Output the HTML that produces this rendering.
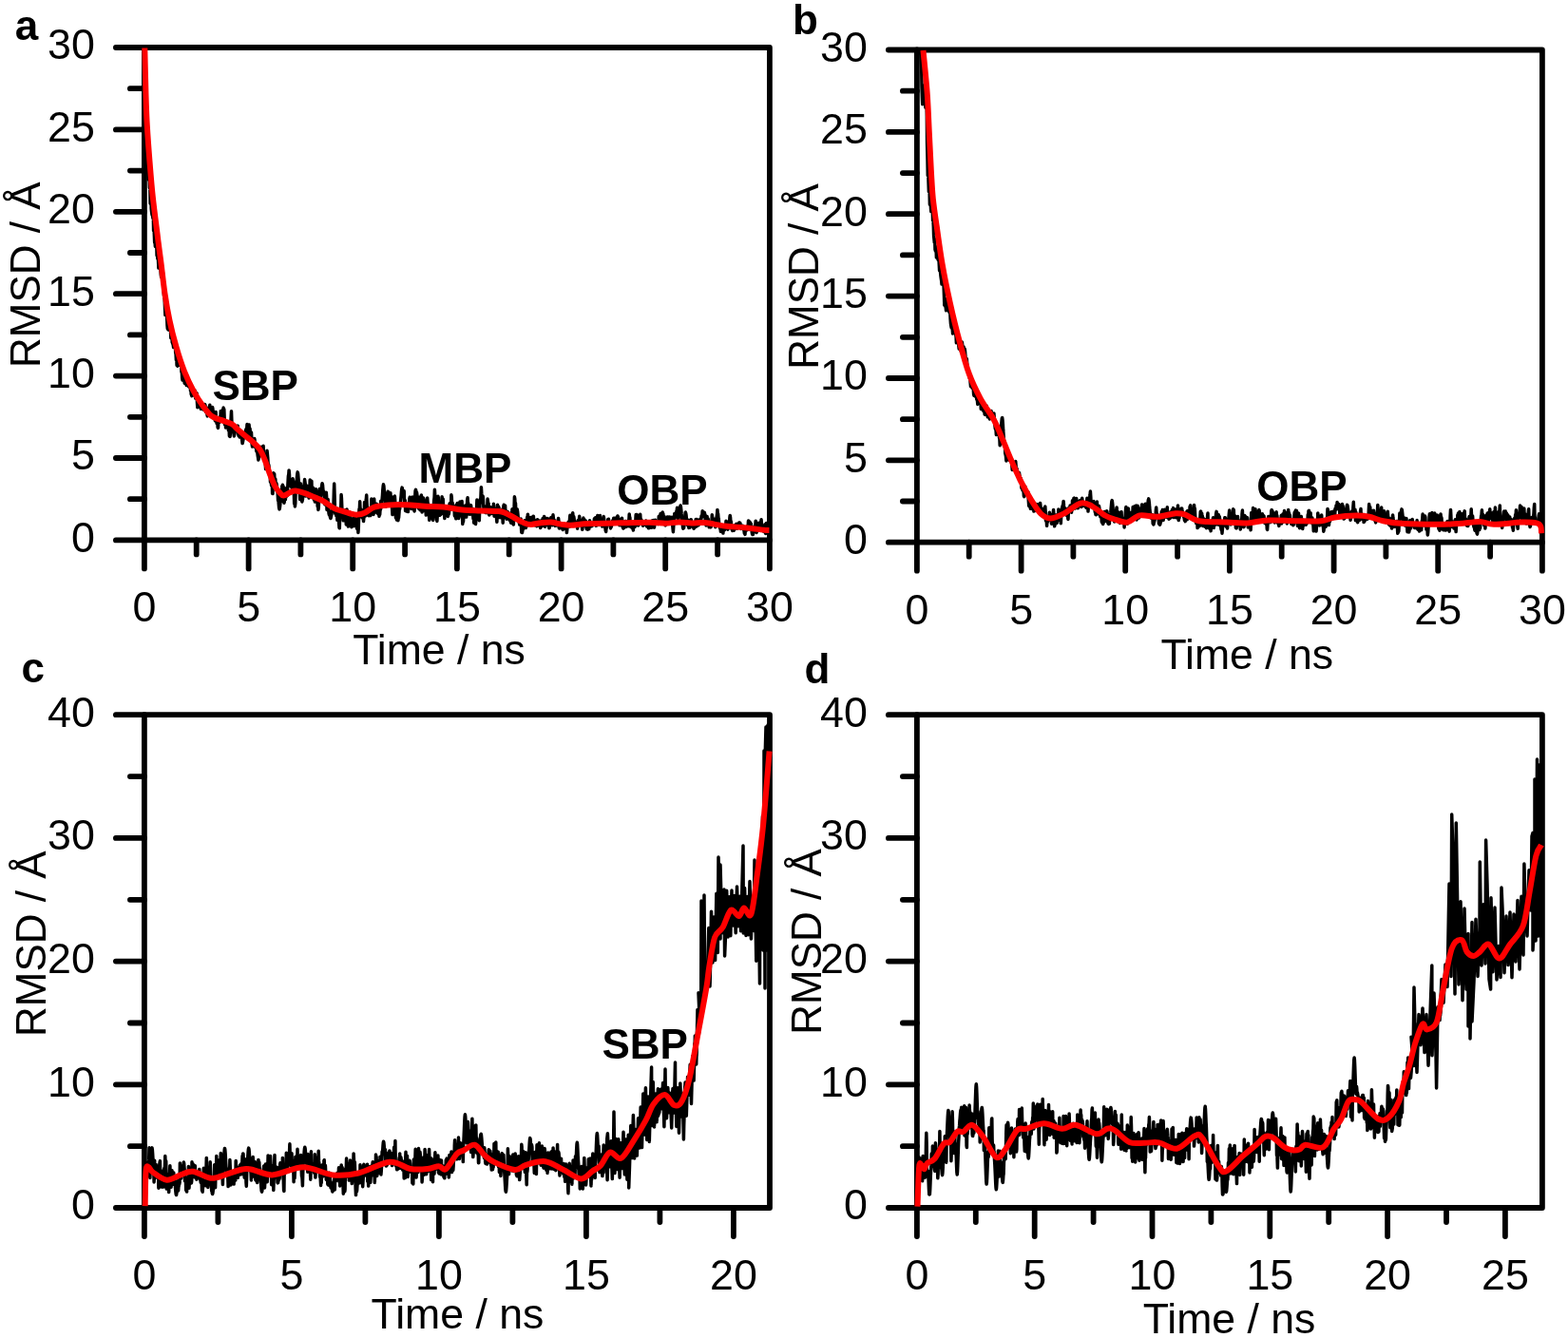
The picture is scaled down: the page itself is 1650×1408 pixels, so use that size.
<!DOCTYPE html><html><head><meta charset="utf-8"><title>RMSD</title><style>html,body{margin:0;padding:0;background:#fff;}svg{display:block;}</style></head><body>
<svg width="1650" height="1408" viewBox="0 0 1650 1408">
<rect width="1650" height="1408" fill="#fff"/>
<g stroke="#000" stroke-width="5.8" stroke-linecap="round" stroke-linejoin="round" fill="none">
<rect x="151.9" y="50.0" width="658.0" height="518.4"/>
<line x1="151.9" y1="568.4" x2="151.9" y2="598.4"/>
<line x1="261.6" y1="568.4" x2="261.6" y2="598.4"/>
<line x1="371.2" y1="568.4" x2="371.2" y2="598.4"/>
<line x1="480.9" y1="568.4" x2="480.9" y2="598.4"/>
<line x1="590.6" y1="568.4" x2="590.6" y2="598.4"/>
<line x1="700.2" y1="568.4" x2="700.2" y2="598.4"/>
<line x1="809.9" y1="568.4" x2="809.9" y2="598.4"/>
<line x1="206.7" y1="568.4" x2="206.7" y2="583.4"/>
<line x1="316.4" y1="568.4" x2="316.4" y2="583.4"/>
<line x1="426.1" y1="568.4" x2="426.1" y2="583.4"/>
<line x1="535.7" y1="568.4" x2="535.7" y2="583.4"/>
<line x1="645.4" y1="568.4" x2="645.4" y2="583.4"/>
<line x1="755.1" y1="568.4" x2="755.1" y2="583.4"/>
<line x1="151.9" y1="568.4" x2="121.9" y2="568.4"/>
<line x1="151.9" y1="482.0" x2="121.9" y2="482.0"/>
<line x1="151.9" y1="395.6" x2="121.9" y2="395.6"/>
<line x1="151.9" y1="309.2" x2="121.9" y2="309.2"/>
<line x1="151.9" y1="222.8" x2="121.9" y2="222.8"/>
<line x1="151.9" y1="136.4" x2="121.9" y2="136.4"/>
<line x1="151.9" y1="50.0" x2="121.9" y2="50.0"/>
<line x1="151.9" y1="525.2" x2="136.9" y2="525.2"/>
<line x1="151.9" y1="438.8" x2="136.9" y2="438.8"/>
<line x1="151.9" y1="352.4" x2="136.9" y2="352.4"/>
<line x1="151.9" y1="266.0" x2="136.9" y2="266.0"/>
<line x1="151.9" y1="179.6" x2="136.9" y2="179.6"/>
<line x1="151.9" y1="93.2" x2="136.9" y2="93.2"/>
</g>
<path d="M152.2,106.7 152.5,102.7 152.9,137.8 153.2,136.7 153.6,154.5 153.9,173.1 154.3,178.4 154.6,175.1 155.0,181.7 155.3,179.5 155.7,173.1 156.0,189.0 156.4,172.3 156.7,187.0 157.1,183.4 157.4,197.7 157.8,195.3 158.1,214.3 158.5,209.8 158.8,192.6 159.2,219.4 159.5,222.2 159.9,225.3 160.2,226.7 160.6,226.7 160.9,229.7 161.3,226.8 161.6,242.7 162.0,239.2 162.3,245.6 162.7,255.5 163.0,254.2 163.4,259.3 163.7,255.5 164.1,251.8 164.4,245.9 164.8,259.0 165.1,269.0 165.5,265.3 165.8,272.3 166.2,267.9 166.5,273.2 166.9,282.1 167.2,270.6 167.6,276.2 167.9,273.3 168.3,269.3 168.6,278.3 169.0,283.9 169.3,289.1 169.7,291.6 170.0,290.3 170.4,285.7 170.7,285.4 171.1,285.1 171.4,287.0 171.8,295.9 172.1,305.1 172.5,311.0 172.8,312.8 173.2,314.9 173.5,322.8 173.9,331.6 174.2,331.3 174.6,327.7 174.9,327.7 175.3,331.0 175.6,332.3 176.0,342.4 176.3,345.9 176.7,340.6 177.0,346.9 177.4,346.0 177.7,339.9 178.1,344.7 178.4,342.8 178.8,345.0 179.1,348.0 179.5,348.5 179.8,355.7 180.2,355.4 180.5,355.2 180.9,352.0 181.2,360.2 181.6,361.2 181.9,362.0 182.3,363.2 182.6,365.6 183.0,361.4 183.3,356.3 183.7,358.7 184.0,357.3 184.4,360.2 184.7,371.0 185.1,372.9 185.4,378.8 185.8,375.9 186.1,384.5 186.5,383.5 186.8,385.2 187.2,383.6 187.5,379.9 187.9,381.5 188.2,382.7 188.6,378.4 188.9,380.4 189.3,381.5 189.6,384.4 190.0,382.0 190.3,381.0 190.7,382.7 191.0,391.4 191.4,392.3 191.7,397.8 192.1,400.1 192.4,399.8 192.8,399.6 193.1,395.1 193.5,393.4 193.8,396.2 194.2,403.1 194.5,403.4 194.9,402.0 195.2,400.6 195.6,397.4 195.9,400.7 196.3,405.5 196.6,404.6 197.0,402.2 197.3,403.2 197.7,404.4 198.0,404.6 198.4,406.3 198.7,406.8 199.1,406.4 199.4,405.3 199.8,407.4 200.1,404.1 200.5,411.2 200.8,408.8 201.2,414.8 201.5,415.5 201.9,416.7 202.2,412.6 202.6,410.9 202.9,411.2 203.3,410.0 203.6,414.4 204.0,414.3 204.3,415.8 204.7,411.7 205.0,410.9 205.4,415.5 205.7,419.1 206.1,415.9 206.4,417.6 206.8,413.5 207.1,414.1 207.5,423.9 207.8,428.7 208.2,421.1 208.5,421.0 208.9,424.2 209.2,422.8 209.6,426.2 209.9,423.3 210.3,428.2 210.6,426.6 211.0,425.0 211.3,430.3 211.7,428.2 212.0,425.7 212.4,426.9 212.7,427.3 213.1,427.0 213.4,427.0 213.8,430.9 214.1,427.7 214.5,429.0 214.8,430.7 215.2,430.3 215.5,425.5 215.9,426.1 216.2,430.0 216.6,433.6 216.9,433.8 217.3,434.2 217.6,432.6 218.0,436.4 218.3,437.9 218.7,430.3 219.0,433.1 219.4,428.9 219.7,430.8 220.1,432.8 220.4,427.8 220.8,426.2 221.1,429.9 221.5,433.2 221.8,435.9 222.2,438.3 222.5,434.7 222.9,436.1 223.2,432.8 223.6,428.5 223.9,430.1 224.3,433.7 224.6,435.2 225.0,435.8 225.3,435.3 225.7,439.7 226.0,439.2 226.4,442.7 226.7,441.8 227.1,433.5 227.4,440.8 227.8,442.5 228.1,445.5 228.5,444.7 228.8,444.4 229.2,449.8 229.5,450.3 229.9,443.6 230.2,441.5 230.6,442.4 230.9,444.4 231.3,442.2 231.6,438.3 232.0,439.2 232.3,432.6 232.7,435.8 233.0,442.0 233.4,441.2 233.7,439.3 234.1,440.7 234.4,431.3 234.8,432.3 235.1,429.1 235.5,430.6 235.8,430.7 236.2,441.1 236.5,446.7 236.9,444.6 237.2,445.2 237.6,450.0 237.9,446.9 238.3,445.1 238.6,445.9 239.0,445.5 239.3,445.2 239.7,444.2 240.0,447.2 240.4,452.8 240.7,452.8 241.1,451.7 241.4,459.0 241.8,459.0 242.1,459.4 242.5,454.5 242.8,446.3 243.2,438.1 243.5,432.7 243.9,444.1 244.2,445.9 244.6,448.3 244.9,449.1 245.3,449.0 245.6,450.0 246.0,456.2 246.3,458.9 246.7,457.4 247.0,456.1 247.4,452.9 247.7,451.3 248.1,451.4 248.4,451.5 248.8,451.6 249.1,449.3 249.5,449.0 249.8,448.8 250.2,448.2 250.5,453.3 250.9,457.7 251.2,458.6 251.6,457.1 251.9,453.5 252.3,460.1 252.6,458.9 253.0,457.6 253.3,456.4 253.7,456.2 254.0,459.5 254.4,459.1 254.7,462.9 255.1,466.6 255.4,465.4 255.8,463.1 256.1,461.3 256.5,461.0 256.8,458.4 257.2,460.0 257.5,455.8 257.9,457.7 258.2,459.6 258.6,452.9 258.9,451.7 259.3,454.8 259.6,453.0 260.0,446.6 260.3,447.2 260.7,453.9 261.0,462.1 261.4,458.3 261.7,448.4 262.1,447.0 262.4,451.8 262.8,450.6 263.1,451.4 263.5,458.0 263.8,460.6 264.2,460.5 264.5,455.1 264.9,462.7 265.2,467.8 265.6,470.1 265.9,467.7 266.3,463.1 266.6,464.5 267.0,464.7 267.3,467.4 267.7,461.5 268.0,462.6 268.4,470.3 268.7,469.2 269.1,468.8 269.4,470.2 269.8,474.6 270.1,474.2 270.5,476.2 270.8,475.4 271.2,479.3 271.5,481.1 271.9,483.9 272.2,482.7 272.6,477.1 272.9,477.0 273.3,473.7 273.6,471.7 274.0,471.1 274.3,476.8 274.7,479.0 275.0,470.3 275.4,478.9 275.7,479.9 276.1,475.0 276.4,473.1 276.8,472.3 277.1,469.3 277.5,480.4 277.8,483.5 278.2,481.0 278.5,484.7 278.9,481.5 279.2,486.7 279.6,493.6 279.9,486.7 280.3,484.1 280.6,482.0 281.0,474.2 281.3,476.9 281.7,481.1 282.1,487.1 282.4,490.0 282.8,489.3 283.1,492.2 283.5,500.0 283.8,497.4 284.2,497.6 284.5,507.3 284.9,502.9 285.2,504.4 285.6,510.8 285.9,504.5 286.3,505.7 286.6,519.4 287.0,519.5 287.3,507.1 287.7,497.8 288.0,498.6 288.4,501.6 288.7,498.8 289.1,511.7 289.4,510.4 289.8,504.1 290.1,512.0 290.5,509.7 290.8,508.4 291.2,510.5 291.5,513.9 291.9,516.6 292.2,518.6 292.6,526.7 292.9,525.8 293.3,530.4 293.6,534.2 294.0,535.9 294.3,535.0 294.7,532.0 295.0,528.2 295.4,524.9 295.7,522.7 296.1,527.3 296.4,525.8 296.8,511.5 297.1,516.4 297.5,510.3 297.8,511.6 298.2,512.4 298.5,519.2 298.9,529.3 299.2,528.2 299.6,523.9 299.9,524.5 300.3,525.7 300.6,523.0 301.0,523.0 301.3,518.9 301.7,513.3 302.0,519.8 302.4,521.5 302.7,513.6 303.1,506.0 303.4,500.9 303.8,499.1 304.1,494.9 304.5,499.1 304.8,509.3 305.2,506.7 305.5,508.7 305.9,511.5 306.2,508.5 306.6,508.0 306.9,513.2 307.3,513.4 307.6,514.8 308.0,503.7 308.3,504.9 308.7,506.5 309.0,511.8 309.4,520.2 309.7,530.1 310.1,525.2 310.4,532.9 310.8,529.6 311.1,515.3 311.5,513.6 311.8,510.7 312.2,506.6 312.5,502.0 312.9,498.3 313.2,496.9 313.6,498.4 313.9,502.2 314.3,507.0 314.6,511.2 315.0,514.2 315.3,516.0 315.7,525.6 316.0,511.6 316.4,508.9 316.7,514.5 317.1,514.0 317.4,523.4 317.8,527.9 318.1,526.9 318.5,525.2 318.8,511.7 319.2,512.2 319.5,515.3 319.9,520.5 320.2,510.3 320.6,504.6 320.9,506.6 321.3,509.6 321.6,522.1 322.0,518.1 322.3,518.5 322.7,512.6 323.0,511.2 323.4,515.7 323.7,518.6 324.1,521.9 324.4,519.4 324.8,522.1 325.1,524.1 325.5,517.3 325.8,517.6 326.2,505.0 326.5,509.7 326.9,511.6 327.2,513.2 327.6,511.3 327.9,506.3 328.3,522.3 328.6,522.3 329.0,513.0 329.3,513.9 329.7,513.6 330.0,522.5 330.4,525.9 330.7,524.2 331.1,519.3 331.4,528.1 331.8,522.1 332.1,521.3 332.5,514.7 332.8,517.0 333.2,528.3 333.5,518.1 333.9,525.7 334.2,533.0 334.6,531.6 334.9,536.4 335.3,534.1 335.6,525.3 336.0,522.7 336.3,514.5 336.7,519.5 337.0,524.5 337.4,523.1 337.7,520.7 338.1,517.1 338.4,513.1 338.8,509.9 339.1,508.7 339.5,510.2 339.8,513.8 340.2,518.2 340.5,516.8 340.9,518.0 341.2,521.8 341.6,530.2 341.9,530.9 342.3,523.5 342.6,529.3 343.0,530.7 343.3,518.2 343.7,523.5 344.0,536.5 344.4,529.9 344.7,532.1 345.1,525.4 345.4,532.5 345.8,537.6 346.1,540.6 346.5,541.9 346.8,538.4 347.2,541.7 347.5,544.4 347.9,545.5 348.2,544.8 348.6,542.6 348.9,541.6 349.3,537.4 349.6,535.7 350.0,534.8 350.3,538.8 350.7,536.6 351.0,531.2 351.4,516.9 351.7,509.1 352.1,522.0 352.4,532.9 352.8,540.5 353.1,540.8 353.5,539.6 353.8,542.6 354.2,540.5 354.5,539.3 354.9,547.3 355.2,543.4 355.6,541.4 355.9,541.5 356.3,543.1 356.6,549.9 357.0,555.5 357.3,555.7 357.7,539.5 358.0,539.4 358.4,536.4 358.7,535.0 359.1,520.6 359.4,524.1 359.8,533.9 360.1,539.4 360.5,537.1 360.8,541.7 361.2,547.8 361.5,541.8 361.9,537.6 362.2,543.9 362.6,542.8 362.9,541.7 363.3,538.5 363.6,536.8 364.0,545.3 364.3,551.9 364.7,547.6 365.0,536.1 365.4,542.3 365.7,542.7 366.1,550.0 366.4,554.1 366.8,552.3 367.1,549.8 367.5,542.7 367.8,539.2 368.2,539.5 368.5,548.5 368.9,548.9 369.2,546.1 369.6,547.1 369.9,554.8 370.3,551.7 370.6,551.0 371.0,550.4 371.3,548.5 371.7,552.5 372.0,544.9 372.4,550.3 372.7,553.6 373.1,549.4 373.4,545.0 373.8,542.5 374.1,545.8 374.5,547.9 374.8,547.7 375.2,547.8 375.5,556.2 375.9,554.3 376.2,555.4 376.6,553.9 376.9,560.5 377.3,554.8 377.6,543.4 378.0,535.6 378.3,537.9 378.7,527.7 379.0,534.8 379.4,537.2 379.7,535.8 380.1,536.3 380.4,541.0 380.8,540.5 381.1,544.8 381.5,541.8 381.8,541.4 382.2,543.1 382.5,548.5 382.9,544.9 383.2,543.0 383.6,528.4 383.9,530.3 384.3,543.1 384.6,529.8 385.0,528.4 385.3,525.8 385.7,521.0 386.0,527.9 386.4,535.4 386.7,542.1 387.1,534.2 387.4,538.9 387.8,539.5 388.1,542.7 388.5,539.5 388.8,537.6 389.2,536.3 389.5,542.0 389.9,542.4 390.2,537.5 390.6,534.4 390.9,525.1 391.3,527.6 391.6,535.4 392.0,534.8 392.3,534.9 392.7,532.5 393.0,541.4 393.4,536.6 393.7,524.9 394.1,532.0 394.4,535.6 394.8,538.9 395.1,536.6 395.5,535.4 395.8,534.0 396.2,530.2 396.5,536.2 396.9,539.7 397.2,540.2 397.6,536.4 397.9,538.0 398.3,536.2 398.6,540.3 399.0,543.3 399.3,535.9 399.7,541.4 400.0,536.6 400.4,536.2 400.7,527.2 401.1,534.3 401.4,528.2 401.8,528.7 402.1,525.4 402.5,520.8 402.8,515.6 403.2,511.4 403.5,509.8 403.9,511.4 404.2,515.5 404.6,520.6 404.9,522.1 405.3,521.8 405.6,530.2 406.0,533.0 406.3,524.5 406.7,524.4 407.0,526.2 407.4,526.9 407.7,519.9 408.1,517.3 408.4,517.3 408.8,523.6 409.1,525.0 409.5,530.1 409.8,525.0 410.2,532.2 410.5,531.8 410.9,518.7 411.2,526.3 411.6,532.3 411.9,528.2 412.3,522.8 412.6,534.7 413.0,541.6 413.3,529.6 413.7,532.0 414.0,530.7 414.4,532.0 414.7,528.5 415.1,527.2 415.4,522.1 415.8,528.0 416.1,537.2 416.5,544.8 416.8,544.5 417.2,545.8 417.5,547.0 417.9,538.8 418.2,535.1 418.6,541.1 418.9,547.7 419.3,544.5 419.6,544.7 420.0,539.4 420.3,535.3 420.7,535.7 421.0,529.9 421.4,528.3 421.7,525.7 422.1,522.0 422.4,517.8 422.8,514.4 423.1,513.1 423.5,514.4 423.8,517.8 424.2,522.0 424.5,520.3 424.9,518.3 425.2,516.8 425.6,527.8 425.9,529.5 426.3,526.6 426.6,537.4 427.0,533.8 427.3,536.7 427.7,538.0 428.0,537.7 428.4,533.5 428.7,530.4 429.1,532.9 429.4,538.6 429.8,534.1 430.1,533.1 430.5,532.0 430.8,525.1 431.2,523.3 431.5,523.8 431.9,529.3 432.2,531.5 432.6,534.7 432.9,533.0 433.3,535.6 433.6,530.5 434.0,522.9 434.3,531.4 434.7,531.8 435.0,530.8 435.4,531.3 435.7,536.0 436.1,538.0 436.4,533.2 436.8,521.3 437.1,516.3 437.5,515.3 437.8,517.0 438.2,521.2 438.5,518.1 438.9,521.1 439.2,525.4 439.6,526.8 439.9,523.5 440.3,534.9 440.6,523.1 441.0,532.7 441.3,529.3 441.7,535.3 442.0,536.6 442.4,533.5 442.7,523.5 443.1,526.6 443.4,520.9 443.8,526.3 444.1,539.0 444.5,532.9 444.8,531.1 445.2,530.1 445.5,523.9 445.9,530.8 446.2,537.5 446.6,529.7 446.9,526.7 447.3,532.2 447.6,530.7 448.0,534.0 448.3,542.1 448.7,537.8 449.0,536.2 449.4,524.4 449.7,524.1 450.1,529.4 450.4,529.7 450.8,538.0 451.1,535.1 451.5,541.8 451.8,547.3 452.2,545.9 452.5,542.0 452.9,543.3 453.2,542.1 453.6,534.8 453.9,544.7 454.3,538.1 454.6,535.2 455.0,536.2 455.3,541.0 455.7,547.4 456.0,542.6 456.4,531.8 456.7,526.4 457.1,523.3 457.4,515.3 457.8,521.7 458.1,535.4 458.5,522.9 458.8,538.3 459.2,541.7 459.5,546.9 459.9,548.4 460.2,543.1 460.6,533.3 460.9,522.3 461.3,523.5 461.6,529.1 462.0,533.0 462.3,536.4 462.7,539.5 463.0,542.2 463.4,540.2 463.7,541.6 464.1,537.5 464.4,536.6 464.8,535.5 465.1,522.8 465.5,526.7 465.8,530.9 466.2,525.1 466.5,535.1 466.9,532.9 467.2,541.4 467.6,542.0 467.9,545.5 468.3,537.7 468.6,541.4 469.0,542.4 469.3,542.0 469.7,534.5 470.0,538.6 470.4,538.2 470.7,534.7 471.1,539.9 471.4,543.4 471.8,539.1 472.1,541.2 472.5,539.7 472.8,531.9 473.2,529.7 473.5,533.7 473.9,535.0 474.2,536.4 474.6,533.1 474.9,520.7 475.3,523.6 475.6,532.4 476.0,528.9 476.3,530.3 476.7,531.8 477.0,531.8 477.4,533.7 477.7,533.7 478.1,536.4 478.4,543.0 478.8,540.3 479.1,540.2 479.5,543.3 479.8,545.8 480.2,537.0 480.5,531.0 480.9,531.6 481.2,529.4 481.6,535.9 481.9,539.9 482.3,540.2 482.6,545.4 483.0,544.1 483.3,539.0 483.7,540.9 484.0,527.9 484.4,538.3 484.7,537.2 485.1,536.4 485.4,535.2 485.8,530.0 486.1,527.5 486.5,542.8 486.8,551.4 487.2,546.4 487.5,549.1 487.9,542.8 488.2,535.4 488.6,533.8 488.9,534.0 489.3,532.2 489.6,540.8 490.0,543.1 490.3,539.4 490.7,544.1 491.0,531.0 491.4,536.9 491.7,526.0 492.1,523.8 492.4,530.8 492.8,529.5 493.1,540.9 493.5,539.7 493.8,539.4 494.2,536.0 494.5,532.8 494.9,541.3 495.2,538.9 495.6,531.7 495.9,537.6 496.3,540.3 496.6,537.3 497.0,535.3 497.3,535.3 497.7,542.2 498.0,545.8 498.4,544.2 498.7,550.2 499.1,542.1 499.4,541.7 499.8,548.0 500.1,545.6 500.5,551.5 500.8,548.4 501.2,535.6 501.5,535.6 501.9,526.0 502.2,533.9 502.6,535.9 502.9,535.6 503.3,531.6 503.6,543.2 504.0,544.0 504.3,547.7 504.7,537.1 505.0,530.9 505.4,525.1 505.7,528.7 506.1,518.9 506.4,512.7 506.8,519.2 507.1,521.2 507.5,528.8 507.8,525.3 508.2,522.3 508.5,526.0 508.9,534.2 509.2,531.9 509.6,535.7 509.9,535.5 510.3,537.0 510.6,536.0 511.0,539.6 511.3,532.9 511.7,533.7 512.0,539.7 512.4,535.6 512.7,535.9 513.1,525.1 513.4,527.7 513.8,529.1 514.1,530.0 514.5,537.5 514.8,541.9 515.2,533.6 515.5,534.8 515.9,534.9 516.2,533.7 516.6,539.8 516.9,540.5 517.3,540.5 517.6,534.4 518.0,537.9 518.3,536.8 518.7,538.2 519.0,539.5 519.4,530.3 519.7,532.1 520.1,543.2 520.4,541.2 520.8,539.1 521.1,539.3 521.5,535.4 521.8,538.8 522.2,539.5 522.5,545.0 522.9,549.3 523.2,541.7 523.6,531.3 523.9,535.2 524.3,535.9 524.6,533.2 525.0,534.0 525.3,541.8 525.7,541.2 526.0,544.5 526.4,543.8 526.7,543.7 527.1,544.6 527.4,538.3 527.8,539.6 528.1,537.0 528.5,536.2 528.8,539.7 529.2,550.2 529.5,541.9 529.9,532.5 530.2,531.3 530.6,538.3 530.9,544.3 531.3,532.7 531.6,532.0 532.0,542.3 532.3,537.4 532.7,539.3 533.0,546.3 533.4,543.9 533.7,543.0 534.1,538.4 534.4,542.3 534.8,544.0 535.1,546.0 535.5,543.7 535.8,544.8 536.2,540.2 536.5,547.6 536.9,541.9 537.2,548.4 537.6,550.2 537.9,549.4 538.3,547.4 538.6,542.0 539.0,535.8 539.3,540.3 539.7,548.6 540.0,551.7 540.4,552.0 540.7,540.8 541.1,533.2 541.4,522.8 541.8,525.1 542.1,532.9 542.5,529.6 542.8,537.6 543.2,540.7 543.5,546.8 543.9,541.2 544.2,535.7 544.6,538.0 544.9,540.7 545.3,544.8 545.6,549.0 546.0,546.8 546.3,547.9 546.7,552.1 547.0,549.4 547.4,548.9 547.7,549.3 548.1,546.0 548.4,552.6 548.8,560.2 549.1,560.0 549.5,560.4 549.8,558.6 550.2,552.5 550.5,557.3 550.9,556.1 551.2,553.2 551.6,549.9 551.9,549.3 552.3,547.8 552.6,549.5 553.0,550.7 553.3,555.5 553.7,553.9 554.0,552.3 554.4,553.4 554.7,544.2 555.1,546.0 555.4,541.2 555.8,546.6 556.1,544.4 556.5,545.9 556.8,546.5 557.2,548.6 557.5,545.7 557.9,547.5 558.2,544.5 558.6,544.9 558.9,550.7 559.3,550.6 559.6,551.0 560.0,546.6 560.3,551.5 560.7,549.7 561.0,543.2 561.4,543.2 561.7,550.4 562.1,551.2 562.4,551.1 562.8,551.7 563.1,552.7 563.5,552.5 563.8,547.6 564.2,548.3 564.5,553.3 564.9,553.7 565.2,553.6 565.6,546.7 565.9,551.2 566.3,553.0 566.6,550.2 567.0,550.0 567.3,548.0 567.7,548.7 568.0,552.1 568.4,551.6 568.7,555.5 569.1,555.0 569.4,549.9 569.8,551.0 570.1,547.6 570.5,547.2 570.8,553.3 571.2,545.4 571.5,546.8 571.9,548.0 572.2,547.2 572.6,543.4 572.9,548.7 573.3,549.1 573.6,554.3 574.0,550.4 574.3,551.1 574.7,545.5 575.0,551.8 575.4,552.4 575.7,549.7 576.1,545.5 576.4,546.8 576.8,548.5 577.1,548.3 577.5,551.9 577.8,555.7 578.2,555.5 578.5,550.0 578.9,549.1 579.2,545.4 579.6,549.5 579.9,544.6 580.3,546.9 580.6,544.4 581.0,548.5 581.3,552.8 581.7,549.9 582.0,541.8 582.4,546.2 582.7,547.5 583.1,546.9 583.4,551.5 583.8,552.3 584.1,553.4 584.5,551.2 584.8,551.3 585.2,552.2 585.5,551.5 585.9,552.9 586.2,552.3 586.6,551.9 586.9,548.6 587.3,547.0 587.6,545.5 588.0,548.9 588.3,555.7 588.7,556.0 589.0,554.3 589.4,553.3 589.7,551.6 590.1,552.6 590.4,553.3 590.8,554.0 591.1,553.9 591.5,556.3 591.8,555.5 592.2,557.5 592.5,555.2 592.9,556.0 593.2,551.5 593.6,552.9 593.9,554.9 594.3,555.4 594.6,556.3 595.0,555.7 595.3,555.7 595.7,556.0 596.0,556.1 596.4,560.6 596.7,557.8 597.1,552.8 597.4,552.6 597.8,550.1 598.1,549.4 598.5,553.5 598.8,554.0 599.2,554.2 599.5,546.2 599.9,542.2 600.2,542.8 600.6,544.3 600.9,546.3 601.3,550.2 601.6,550.1 602.0,548.2 602.3,544.4 602.7,539.7 603.0,543.1 603.4,544.9 603.7,543.4 604.1,545.5 604.4,548.8 604.8,549.9 605.1,552.4 605.5,552.5 605.8,552.6 606.2,549.7 606.5,549.4 606.9,552.3 607.2,550.7 607.6,556.2 607.9,549.2 608.3,547.5 608.6,552.0 609.0,553.5 609.3,548.8 609.7,543.3 610.0,547.0 610.4,546.9 610.7,551.9 611.1,551.1 611.4,547.3 611.8,549.2 612.1,547.6 612.5,555.2 612.8,557.3 613.2,551.9 613.5,553.9 613.9,545.1 614.2,547.8 614.6,546.1 614.9,550.9 615.3,551.3 615.6,552.6 616.0,551.2 616.3,548.1 616.7,552.3 617.0,555.4 617.4,556.8 617.7,554.8 618.1,552.2 618.4,557.2 618.8,555.1 619.1,553.6 619.5,552.4 619.8,556.7 620.2,549.8 620.5,547.7 620.9,551.9 621.2,549.1 621.6,549.6 621.9,554.1 622.3,550.8 622.6,551.3 623.0,553.5 623.3,552.2 623.7,549.6 624.0,550.2 624.4,551.4 624.7,551.4 625.1,550.4 625.4,545.8 625.8,548.0 626.1,547.8 626.5,544.7 626.8,548.4 627.2,553.3 627.5,551.5 627.9,552.5 628.2,552.8 628.6,544.2 628.9,542.4 629.3,545.3 629.6,546.8 630.0,548.1 630.3,549.1 630.7,552.4 631.0,545.3 631.4,542.6 631.7,547.7 632.1,548.1 632.4,546.3 632.8,548.5 633.1,547.3 633.5,551.2 633.8,554.1 634.2,553.5 634.5,553.5 634.9,546.4 635.2,543.6 635.6,545.9 635.9,551.2 636.3,550.8 636.6,554.1 637.0,556.1 637.3,558.4 637.7,559.5 638.0,555.0 638.4,555.4 638.7,551.2 639.1,552.9 639.4,549.9 639.8,546.4 640.1,548.0 640.5,546.3 640.8,550.5 641.2,550.6 641.5,550.5 641.9,551.0 642.2,552.6 642.6,555.9 642.9,553.2 643.3,554.4 643.6,550.7 644.0,552.3 644.3,549.1 644.7,547.9 645.0,548.1 645.4,549.5 645.7,545.3 646.1,545.9 646.4,546.0 646.8,545.3 647.1,549.0 647.5,550.0 647.8,548.3 648.2,548.5 648.5,550.3 648.9,551.2 649.2,544.1 649.6,543.9 649.9,543.0 650.3,543.6 650.6,545.1 651.0,548.8 651.3,545.9 651.7,550.6 652.0,552.8 652.4,550.4 652.7,551.0 653.1,549.3 653.4,550.8 653.8,552.8 654.1,553.1 654.5,545.2 654.8,549.1 655.2,554.2 655.5,555.4 655.9,556.0 656.2,553.8 656.6,555.5 656.9,553.1 657.3,551.7 657.6,552.0 658.0,548.4 658.3,551.4 658.7,548.4 659.0,554.4 659.4,552.7 659.7,552.1 660.1,550.6 660.4,552.4 660.8,553.6 661.1,553.7 661.5,547.4 661.8,548.5 662.2,541.0 662.5,544.0 662.9,544.7 663.2,552.3 663.6,550.6 663.9,554.5 664.3,552.9 664.6,554.8 665.0,554.6 665.3,555.8 665.7,549.6 666.0,553.3 666.4,558.0 666.7,552.2 667.1,552.0 667.4,549.5 667.8,549.9 668.1,554.5 668.5,552.1 668.8,548.3 669.2,541.6 669.5,545.5 669.9,547.7 670.2,541.5 670.6,545.1 670.9,546.4 671.3,550.4 671.6,553.1 672.0,552.5 672.3,547.6 672.7,550.4 673.0,544.4 673.4,543.7 673.7,541.2 674.1,547.4 674.4,546.4 674.8,547.2 675.1,547.3 675.5,549.2 675.8,549.4 676.2,551.6 676.5,553.3 676.9,552.4 677.2,552.2 677.6,551.8 677.9,551.2 678.3,551.5 678.6,550.9 679.0,550.9 679.3,552.5 679.7,548.0 680.0,550.1 680.4,551.8 680.7,554.0 681.1,552.6 681.4,551.7 681.8,550.9 682.1,551.3 682.5,555.8 682.8,555.8 683.2,554.7 683.5,555.3 683.9,555.2 684.2,552.2 684.6,552.3 684.9,553.1 685.3,553.6 685.6,555.3 686.0,548.1 686.3,551.3 686.7,549.2 687.0,552.5 687.4,547.5 687.7,549.3 688.1,553.7 688.4,555.1 688.8,552.9 689.1,548.6 689.5,547.2 689.8,550.1 690.2,549.2 690.5,551.2 690.9,550.5 691.2,550.2 691.6,549.5 691.9,550.6 692.3,549.3 692.6,551.6 693.0,548.7 693.3,543.3 693.7,546.0 694.0,545.4 694.4,549.5 694.7,547.5 695.1,540.6 695.4,540.9 695.8,544.4 696.1,543.0 696.5,546.8 696.8,544.7 697.2,538.9 697.5,542.8 697.9,540.8 698.2,548.0 698.6,546.0 698.9,543.3 699.3,547.2 699.6,551.5 700.0,552.3 700.3,552.8 700.7,550.5 701.0,549.4 701.4,546.8 701.7,547.6 702.1,545.5 702.4,543.9 702.8,548.8 703.1,549.1 703.5,547.5 703.8,547.7 704.2,544.1 704.5,546.1 704.9,546.5 705.2,545.7 705.6,544.4 705.9,545.2 706.3,548.3 706.6,544.5 707.0,544.3 707.3,551.0 707.7,552.0 708.0,555.6 708.4,559.7 708.7,555.1 709.1,549.6 709.4,546.1 709.8,540.4 710.1,540.9 710.5,541.8 710.8,541.4 711.2,544.0 711.5,543.5 711.9,538.0 712.2,537.8 712.6,534.2 712.9,542.0 713.3,545.5 713.6,549.4 714.0,544.9 714.3,543.2 714.7,544.0 715.0,540.6 715.4,536.6 715.7,533.3 716.1,532.0 716.4,533.3 716.8,536.6 717.1,540.7 717.5,544.4 717.8,547.0 718.2,548.5 718.5,554.9 718.9,556.1 719.2,554.9 719.6,555.7 719.9,552.0 720.3,546.0 720.6,546.3 721.0,541.0 721.3,539.0 721.7,540.1 722.0,541.7 722.4,546.2 722.7,551.5 723.1,552.4 723.4,548.1 723.8,547.1 724.1,549.7 724.5,551.8 724.8,555.4 725.2,554.3 725.5,551.9 725.9,555.3 726.2,553.1 726.6,551.9 726.9,546.7 727.3,546.7 727.6,550.2 728.0,550.3 728.3,552.5 728.7,553.9 729.0,554.0 729.4,554.5 729.7,555.1 730.1,556.3 730.4,555.9 730.8,552.3 731.1,554.9 731.5,552.7 731.8,553.4 732.2,546.5 732.5,553.2 732.9,554.0 733.2,546.6 733.6,548.6 733.9,548.5 734.3,547.2 734.6,550.1 735.0,552.8 735.3,549.4 735.7,548.4 736.0,547.6 736.4,546.7 736.7,547.8 737.1,546.3 737.4,550.2 737.8,546.0 738.1,542.8 738.5,544.5 738.8,543.6 739.2,537.7 739.5,541.2 739.9,542.5 740.2,543.5 740.6,540.4 740.9,542.3 741.3,539.2 741.6,540.9 742.0,541.7 742.3,549.9 742.7,550.1 743.0,552.9 743.4,551.7 743.7,550.6 744.1,543.4 744.4,549.2 744.8,546.6 745.1,545.8 745.5,548.4 745.8,551.3 746.2,554.7 746.5,552.9 746.9,551.4 747.2,552.2 747.6,554.2 747.9,554.8 748.3,554.1 748.6,551.1 749.0,548.4 749.3,541.7 749.7,545.0 750.0,547.9 750.4,548.1 750.7,546.8 751.1,546.0 751.4,552.5 751.8,550.9 752.1,550.2 752.5,550.8 752.8,554.7 753.2,552.6 753.5,548.1 753.9,546.0 754.2,543.7 754.6,541.1 754.9,536.4 755.3,541.0 755.6,540.6 756.0,545.3 756.3,546.7 756.7,551.2 757.0,553.5 757.4,554.4 757.7,556.2 758.1,556.1 758.4,559.3 758.8,553.7 759.1,553.9 759.5,557.0 759.8,556.5 760.2,557.8 760.5,557.3 760.9,561.1 761.2,556.7 761.6,554.9 761.9,557.2 762.3,557.8 762.6,554.5 763.0,552.9 763.3,553.0 763.7,553.9 764.0,548.3 764.4,550.9 764.7,553.8 765.1,549.1 765.4,555.4 765.8,557.2 766.1,551.9 766.5,552.9 766.8,556.1 767.2,553.4 767.5,553.2 767.9,544.9 768.2,542.4 768.6,544.7 768.9,550.4 769.3,548.7 769.6,556.3 770.0,555.0 770.3,556.1 770.7,558.5 771.0,557.6 771.4,558.0 771.7,555.6 772.1,557.6 772.4,558.2 772.8,552.9 773.1,553.1 773.5,553.8 773.8,556.3 774.2,552.8 774.5,554.9 774.9,551.3 775.2,553.0 775.6,554.6 775.9,556.1 776.3,552.0 776.6,554.8 777.0,554.8 777.3,552.5 777.7,549.9 778.0,555.2 778.4,551.1 778.7,550.1 779.1,551.4 779.4,555.4 779.8,556.4 780.1,554.3 780.5,556.2 780.8,556.2 781.2,555.4 781.5,553.2 781.9,554.1 782.2,556.7 782.6,557.7 782.9,557.1 783.3,561.2 783.6,560.7 784.0,562.4 784.3,556.9 784.7,558.5 785.0,556.3 785.4,556.0 785.7,558.1 786.1,554.7 786.4,553.8 786.8,557.2 787.1,554.9 787.5,548.1 787.8,549.3 788.2,556.7 788.5,554.7 788.9,548.9 789.2,551.8 789.6,550.1 789.9,552.4 790.3,551.2 790.6,556.6 791.0,556.9 791.3,560.6 791.7,562.4 792.0,561.0 792.4,562.4 792.7,560.6 793.1,559.1 793.4,554.4 793.8,554.7 794.1,555.1 794.5,553.0 794.8,553.2 795.2,548.2 795.5,552.1 795.9,558.1 796.2,560.4 796.6,555.7 796.9,556.5 797.3,553.0 797.6,551.3 798.0,553.6 798.3,550.2 798.7,555.6 799.0,555.4 799.4,555.1 799.7,552.6 800.1,552.5 800.4,550.4 800.8,549.5 801.1,546.8 801.5,552.6 801.8,552.8 802.2,554.9 802.5,557.2 802.9,556.3 803.2,555.6 803.6,557.1 803.9,559.4 804.3,558.9 804.6,558.4 805.0,551.8 805.3,556.4 805.7,561.4 806.0,555.8 806.4,550.5 806.7,552.0 807.1,552.0 807.4,555.5 807.8,557.5 808.0,558.4" fill="none" stroke="#000" stroke-width="3.5" stroke-linejoin="round" stroke-linecap="round"/>
<path d="M152.3,50.5 C152.5,58.8 153.1,86.4 153.5,100.0 C153.9,113.6 154.1,120.6 154.8,132.3 C155.5,144.0 156.5,157.7 157.5,170.0 C158.5,182.3 159.3,192.9 160.7,206.2 C162.1,219.5 164.5,237.7 166.0,250.0 C167.5,262.3 168.7,270.3 169.9,280.0 C171.1,289.7 172.0,298.9 173.4,308.4 C174.8,317.9 176.4,327.3 178.4,336.8 C180.4,346.3 182.9,356.2 185.5,365.2 C188.1,374.2 190.9,383.0 194.0,390.8 C197.1,398.6 200.7,406.0 204.0,412.1 C207.3,418.2 210.8,423.4 213.9,427.7 C217.0,432.0 219.3,435.3 222.4,437.7 C225.5,440.1 228.8,440.5 232.4,441.9 C236.0,443.3 240.9,444.6 243.8,446.2 C246.7,447.8 247.7,449.7 250.0,451.7 C252.3,453.7 255.2,456.2 257.8,458.4 C260.4,460.5 263.0,462.2 265.6,464.6 C268.2,467.0 271.2,469.5 273.4,472.8 C275.6,476.1 277.2,480.3 278.9,484.5 C280.6,488.7 281.9,493.4 283.6,497.8 C285.3,502.2 287.4,507.8 289.1,511.1 C290.8,514.4 292.2,516.0 293.8,517.7 C295.4,519.5 296.6,521.5 298.4,521.6 C300.2,521.7 302.6,519.3 304.7,518.5 C306.8,517.7 308.3,516.5 310.9,516.6 C313.5,516.7 317.2,517.9 320.3,518.9 C323.4,519.9 326.4,521.4 329.7,522.8 C332.9,524.2 336.1,525.1 339.8,527.1 C343.5,529.1 348.2,533.1 351.6,534.9 C355.0,536.6 356.9,536.6 360.0,537.6 C363.1,538.6 367.3,540.1 370.0,540.8 C372.7,541.5 373.6,541.8 376.0,541.6 C378.4,541.4 381.2,540.7 384.2,539.4 C387.2,538.1 389.8,534.9 393.9,533.6 C397.9,532.3 402.8,531.8 408.5,531.4 C414.2,531.0 421.4,531.0 427.9,531.2 C434.4,531.4 440.8,532.4 447.3,532.8 C453.8,533.2 460.2,533.0 466.7,533.6 C473.2,534.2 479.6,535.9 486.1,536.5 C492.6,537.1 499.2,537.2 505.5,537.5 C511.8,537.8 519.7,537.7 523.9,538.0 C528.1,538.3 528.0,538.2 530.9,539.4 C533.8,540.6 537.9,543.1 541.4,545.0 C544.9,546.9 548.9,549.4 551.8,550.5 C554.7,551.6 555.9,551.9 558.8,551.9 C561.7,551.9 565.7,550.6 569.2,550.2 C572.7,549.8 576.2,549.3 579.7,549.5 C583.2,549.7 586.6,551.1 590.1,551.6 C593.6,552.1 596.5,552.9 600.6,552.8 C604.7,552.7 610.4,551.5 614.5,551.2 C618.6,550.9 619.5,551.0 625.0,550.9 C630.5,550.8 641.5,550.5 647.3,550.4 C653.1,550.3 654.0,550.3 660.0,550.2 C666.0,550.1 676.9,549.7 683.6,549.8 C690.3,549.9 695.0,550.8 700.0,550.8 C705.0,550.8 709.2,549.6 713.9,549.5 C718.5,549.4 723.2,550.3 727.9,550.4 C732.5,550.5 736.0,549.6 741.8,550.1 C747.6,550.6 755.7,552.7 762.7,553.6 C769.7,554.5 776.6,554.6 783.6,555.3 C790.6,556.0 800.2,557.3 804.5,557.8 C808.8,558.2 808.6,558.0 809.4,558.0" fill="none" stroke="#f00" stroke-width="6" stroke-linejoin="round" stroke-linecap="butt"/>
<g font-family='"Liberation Sans", Arial, sans-serif' font-size="44.8" fill="#000">
<text x="151.9" y="654.2" text-anchor="middle">0</text>
<text x="261.6" y="654.2" text-anchor="middle">5</text>
<text x="371.2" y="654.2" text-anchor="middle">10</text>
<text x="480.9" y="654.2" text-anchor="middle">15</text>
<text x="590.6" y="654.2" text-anchor="middle">20</text>
<text x="700.2" y="654.2" text-anchor="middle">25</text>
<text x="809.9" y="654.2" text-anchor="middle">30</text>
<text x="99.9" y="580.8" text-anchor="end">0</text>
<text x="99.9" y="494.4" text-anchor="end">5</text>
<text x="99.9" y="408.0" text-anchor="end">10</text>
<text x="99.9" y="321.6" text-anchor="end">15</text>
<text x="99.9" y="235.2" text-anchor="end">20</text>
<text x="99.9" y="148.8" text-anchor="end">25</text>
<text x="99.9" y="62.4" text-anchor="end">30</text>
</g>
<g stroke="#000" stroke-width="5.8" stroke-linecap="round" stroke-linejoin="round" fill="none">
<rect x="964.9" y="52.5" width="658.0" height="518.2"/>
<line x1="964.9" y1="570.7" x2="964.9" y2="600.7"/>
<line x1="1074.6" y1="570.7" x2="1074.6" y2="600.7"/>
<line x1="1184.2" y1="570.7" x2="1184.2" y2="600.7"/>
<line x1="1293.9" y1="570.7" x2="1293.9" y2="600.7"/>
<line x1="1403.6" y1="570.7" x2="1403.6" y2="600.7"/>
<line x1="1513.2" y1="570.7" x2="1513.2" y2="600.7"/>
<line x1="1622.9" y1="570.7" x2="1622.9" y2="600.7"/>
<line x1="1019.7" y1="570.7" x2="1019.7" y2="585.7"/>
<line x1="1129.4" y1="570.7" x2="1129.4" y2="585.7"/>
<line x1="1239.1" y1="570.7" x2="1239.1" y2="585.7"/>
<line x1="1348.7" y1="570.7" x2="1348.7" y2="585.7"/>
<line x1="1458.4" y1="570.7" x2="1458.4" y2="585.7"/>
<line x1="1568.1" y1="570.7" x2="1568.1" y2="585.7"/>
<line x1="964.9" y1="570.7" x2="934.9" y2="570.7"/>
<line x1="964.9" y1="484.3" x2="934.9" y2="484.3"/>
<line x1="964.9" y1="398.0" x2="934.9" y2="398.0"/>
<line x1="964.9" y1="311.6" x2="934.9" y2="311.6"/>
<line x1="964.9" y1="225.2" x2="934.9" y2="225.2"/>
<line x1="964.9" y1="138.9" x2="934.9" y2="138.9"/>
<line x1="964.9" y1="52.5" x2="934.9" y2="52.5"/>
<line x1="964.9" y1="527.5" x2="949.9" y2="527.5"/>
<line x1="964.9" y1="441.2" x2="949.9" y2="441.2"/>
<line x1="964.9" y1="354.8" x2="949.9" y2="354.8"/>
<line x1="964.9" y1="268.4" x2="949.9" y2="268.4"/>
<line x1="964.9" y1="182.1" x2="949.9" y2="182.1"/>
<line x1="964.9" y1="95.7" x2="949.9" y2="95.7"/>
</g>
<path d="M966.5,55.5 966.9,55.5 967.2,55.5 967.6,55.5 967.9,55.5 968.3,55.5 968.6,55.5 969.0,58.3 969.3,64.4 969.7,71.3 970.0,91.1 970.4,102.9 970.7,109.7 971.1,103.5 971.4,100.7 971.8,102.9 972.1,107.0 972.5,98.0 972.8,89.7 973.2,101.2 973.5,106.7 973.9,113.2 974.2,94.9 974.6,83.3 974.9,93.7 975.3,118.3 975.6,150.8 976.0,167.1 976.3,184.7 976.7,165.2 977.0,190.3 977.4,201.8 977.7,170.8 978.1,199.8 978.4,215.2 978.8,214.0 979.1,205.5 979.5,219.1 979.8,222.5 980.2,216.2 980.5,212.6 980.9,218.4 981.2,217.3 981.6,232.2 981.9,229.1 982.3,237.9 982.6,247.9 983.0,252.0 983.3,255.3 983.7,251.5 984.0,262.6 984.4,264.1 984.7,259.6 985.1,262.3 985.4,271.0 985.8,271.2 986.1,263.4 986.5,261.3 986.8,272.0 987.2,273.4 987.5,270.7 987.9,273.1 988.2,277.2 988.6,284.7 988.9,282.4 989.3,285.4 989.6,286.6 990.0,290.8 990.3,292.9 990.7,295.4 991.0,299.0 991.4,292.6 991.7,291.9 992.1,297.7 992.4,298.6 992.8,297.7 993.1,300.9 993.5,311.1 993.8,321.1 994.2,319.6 994.5,321.9 994.9,315.7 995.2,323.1 995.6,326.8 995.9,324.4 996.3,319.4 996.6,314.2 997.0,318.6 997.3,316.7 997.7,321.5 998.0,325.7 998.4,326.5 998.7,328.3 999.1,327.7 999.4,329.3 999.8,328.5 1000.1,335.7 1000.5,340.8 1000.8,342.6 1001.2,344.9 1001.5,335.8 1001.9,340.1 1002.2,345.7 1002.6,351.0 1002.9,346.3 1003.3,342.2 1003.6,337.4 1004.0,341.8 1004.3,342.3 1004.7,344.6 1005.0,347.7 1005.4,351.3 1005.7,350.8 1006.1,354.8 1006.4,360.8 1006.8,358.0 1007.1,356.0 1007.5,353.2 1007.8,350.2 1008.2,355.2 1008.5,354.8 1008.9,364.2 1009.2,367.0 1009.6,365.9 1009.9,364.0 1010.3,361.1 1010.6,360.8 1011.0,368.1 1011.3,369.6 1011.7,367.3 1012.0,366.2 1012.4,360.1 1012.7,362.7 1013.1,368.7 1013.4,370.1 1013.8,366.6 1014.1,365.0 1014.5,371.2 1014.8,369.1 1015.2,367.2 1015.5,369.5 1015.9,374.4 1016.2,378.9 1016.6,380.6 1016.9,384.2 1017.3,377.6 1017.6,381.4 1018.0,387.8 1018.3,391.4 1018.7,389.0 1019.0,392.0 1019.4,392.7 1019.7,395.9 1020.1,397.6 1020.4,393.4 1020.8,395.7 1021.1,402.4 1021.5,406.5 1021.8,405.9 1022.2,402.0 1022.5,401.4 1022.9,408.2 1023.2,404.3 1023.6,403.0 1023.9,408.1 1024.3,410.1 1024.6,414.6 1025.0,416.3 1025.3,416.2 1025.7,412.9 1026.0,415.1 1026.4,417.2 1026.7,412.7 1027.1,412.3 1027.4,416.3 1027.8,420.4 1028.1,416.8 1028.5,422.1 1028.8,425.4 1029.2,421.9 1029.5,418.1 1029.9,416.6 1030.2,418.2 1030.6,418.6 1030.9,422.7 1031.3,423.2 1031.6,423.9 1032.0,422.7 1032.3,430.5 1032.7,429.7 1033.0,429.9 1033.4,429.5 1033.7,428.8 1034.1,431.1 1034.4,430.1 1034.8,432.5 1035.1,431.0 1035.5,431.9 1035.8,433.3 1036.2,436.0 1036.5,436.2 1036.9,435.5 1037.2,434.0 1037.6,429.5 1037.9,426.8 1038.2,428.8 1038.6,431.7 1038.9,435.2 1039.3,438.8 1039.6,437.5 1040.0,437.3 1040.3,431.8 1040.7,437.3 1041.0,436.6 1041.4,440.9 1041.7,438.6 1042.1,439.0 1042.4,437.0 1042.8,434.8 1043.1,432.6 1043.5,439.2 1043.8,439.4 1044.2,438.9 1044.5,438.9 1044.9,438.6 1045.2,440.5 1045.6,439.1 1045.9,434.9 1046.3,440.1 1046.6,443.8 1047.0,448.2 1047.3,451.2 1047.7,447.7 1048.0,452.2 1048.4,457.5 1048.7,453.1 1049.1,452.6 1049.4,454.5 1049.8,451.2 1050.1,455.8 1050.5,453.8 1050.8,450.2 1051.2,455.4 1051.5,460.5 1051.9,461.6 1052.2,468.7 1052.6,455.2 1052.9,454.1 1053.3,451.7 1053.6,448.0 1054.0,443.7 1054.3,440.4 1054.7,439.6 1055.0,442.0 1055.4,447.0 1055.7,453.0 1056.1,458.4 1056.4,462.5 1056.8,465.2 1057.1,469.7 1057.5,469.0 1057.8,477.2 1058.2,478.6 1058.5,480.4 1058.9,484.9 1059.2,480.0 1059.6,483.3 1059.9,483.7 1060.3,480.0 1060.6,478.9 1061.0,480.7 1061.3,476.7 1061.7,479.4 1062.0,484.2 1062.4,481.0 1062.7,483.4 1063.1,484.4 1063.4,485.0 1063.8,485.3 1064.1,482.4 1064.5,482.9 1064.8,488.9 1065.2,494.4 1065.5,492.0 1065.9,488.6 1066.2,487.2 1066.6,488.4 1066.9,489.6 1067.3,488.6 1067.6,493.2 1068.0,488.6 1068.3,489.3 1068.7,485.4 1069.0,489.0 1069.4,494.8 1069.7,495.6 1070.1,493.2 1070.4,495.6 1070.8,497.5 1071.1,499.0 1071.5,498.4 1071.8,501.9 1072.2,501.6 1072.5,497.6 1072.9,500.3 1073.2,501.2 1073.6,505.9 1073.9,503.4 1074.3,503.5 1074.6,509.5 1075.0,513.5 1075.3,511.5 1075.7,512.0 1076.0,515.8 1076.4,512.7 1076.7,514.9 1077.1,517.0 1077.4,521.9 1077.8,522.6 1078.1,516.1 1078.5,520.9 1078.8,512.1 1079.2,519.2 1079.5,519.0 1079.9,520.4 1080.2,516.8 1080.6,520.1 1080.9,520.3 1081.3,517.4 1081.6,517.4 1082.0,518.1 1082.3,526.6 1082.7,532.2 1083.0,532.8 1083.4,532.3 1083.7,529.2 1084.1,530.8 1084.4,535.3 1084.8,534.4 1085.1,533.6 1085.5,531.0 1085.8,535.5 1086.2,529.6 1086.5,527.7 1086.9,529.5 1087.2,528.7 1087.6,534.2 1087.9,538.0 1088.3,537.0 1088.6,537.7 1089.0,535.6 1089.3,533.0 1089.7,533.4 1090.0,534.8 1090.4,530.6 1090.7,530.8 1091.1,533.4 1091.4,533.4 1091.8,530.8 1092.1,532.3 1092.5,533.7 1092.8,537.9 1093.2,537.3 1093.5,533.8 1093.9,535.3 1094.2,531.0 1094.6,529.5 1094.9,531.9 1095.3,539.6 1095.6,540.8 1096.0,537.7 1096.3,535.3 1096.7,540.3 1097.0,535.3 1097.4,535.6 1097.7,536.9 1098.1,541.5 1098.4,542.5 1098.8,543.3 1099.1,542.5 1099.5,539.9 1099.8,532.9 1100.2,539.0 1100.5,548.0 1100.9,545.7 1101.2,546.7 1101.6,553.3 1101.9,547.2 1102.3,549.6 1102.6,547.2 1103.0,546.8 1103.3,544.4 1103.7,545.7 1104.0,542.5 1104.4,539.3 1104.7,542.4 1105.1,544.5 1105.4,542.4 1105.8,548.1 1106.1,546.8 1106.5,551.2 1106.8,541.4 1107.2,543.7 1107.5,546.8 1107.9,544.3 1108.2,540.6 1108.6,536.5 1108.9,541.0 1109.3,547.1 1109.6,553.8 1110.0,552.7 1110.3,548.4 1110.7,548.4 1111.0,549.3 1111.4,542.0 1111.7,544.0 1112.1,550.4 1112.4,547.3 1112.8,545.9 1113.1,546.7 1113.5,544.0 1113.8,536.1 1114.2,538.7 1114.5,543.3 1114.9,547.2 1115.2,546.2 1115.6,544.5 1115.9,545.4 1116.3,550.7 1116.6,544.9 1117.0,539.4 1117.3,535.3 1117.7,534.4 1118.0,533.3 1118.4,531.6 1118.7,531.7 1119.1,527.5 1119.4,530.7 1119.8,539.8 1120.1,538.9 1120.5,538.5 1120.8,540.5 1121.2,534.9 1121.5,537.1 1121.9,539.6 1122.2,541.9 1122.6,541.6 1122.9,542.7 1123.3,541.7 1123.6,544.0 1124.0,546.4 1124.3,539.5 1124.7,534.5 1125.0,537.4 1125.4,534.6 1125.7,534.8 1126.1,532.0 1126.4,533.3 1126.8,533.5 1127.1,537.3 1127.5,539.2 1127.8,536.8 1128.2,536.6 1128.5,526.8 1128.9,527.5 1129.2,530.6 1129.6,530.0 1129.9,524.5 1130.3,524.2 1130.6,524.6 1131.0,533.5 1131.3,535.0 1131.7,526.6 1132.0,530.9 1132.4,527.9 1132.7,524.5 1133.1,530.8 1133.4,534.5 1133.8,530.8 1134.1,533.4 1134.5,534.6 1134.8,530.4 1135.2,532.1 1135.5,527.2 1135.9,528.7 1136.2,526.9 1136.6,526.7 1136.9,529.5 1137.3,531.5 1137.6,530.9 1138.0,533.4 1138.3,528.5 1138.7,524.3 1139.0,527.2 1139.4,529.7 1139.7,530.7 1140.1,530.3 1140.4,529.0 1140.8,532.2 1141.1,530.5 1141.5,530.3 1141.8,532.6 1142.2,530.6 1142.5,533.3 1142.9,534.2 1143.2,530.0 1143.6,528.9 1143.9,524.3 1144.3,525.4 1144.6,531.7 1145.0,538.1 1145.3,533.5 1145.7,529.7 1146.0,528.6 1146.4,528.2 1146.7,523.5 1147.1,520.3 1147.4,517.1 1147.8,522.8 1148.1,529.4 1148.5,532.8 1148.8,529.9 1149.2,533.5 1149.5,530.7 1149.9,532.1 1150.2,531.1 1150.6,532.7 1150.9,527.6 1151.3,535.4 1151.6,532.3 1152.0,535.1 1152.3,538.9 1152.7,539.0 1153.0,541.6 1153.4,541.7 1153.7,535.7 1154.1,532.2 1154.4,528.1 1154.8,538.1 1155.1,539.8 1155.5,540.7 1155.8,540.0 1156.2,535.4 1156.5,532.6 1156.9,535.0 1157.2,540.2 1157.6,542.4 1157.9,543.8 1158.3,540.6 1158.6,541.8 1159.0,541.8 1159.3,548.9 1159.7,549.7 1160.0,550.4 1160.4,550.5 1160.7,551.5 1161.1,550.3 1161.4,545.2 1161.8,544.3 1162.1,541.1 1162.5,538.5 1162.8,541.4 1163.2,545.3 1163.5,541.6 1163.9,548.5 1164.2,546.0 1164.6,537.8 1164.9,538.4 1165.3,542.5 1165.6,547.5 1166.0,550.9 1166.3,550.6 1166.7,551.4 1167.0,550.0 1167.4,551.2 1167.7,541.7 1168.1,540.8 1168.4,542.2 1168.8,539.5 1169.1,535.7 1169.5,531.3 1169.8,527.9 1170.2,526.6 1170.5,528.1 1170.9,531.7 1171.2,536.3 1171.6,540.3 1171.9,542.8 1172.3,541.7 1172.6,548.9 1173.0,548.9 1173.3,548.2 1173.7,548.1 1174.0,544.8 1174.4,543.7 1174.7,536.6 1175.1,533.9 1175.4,536.8 1175.8,538.4 1176.1,544.4 1176.5,538.7 1176.8,540.0 1177.2,542.1 1177.5,543.5 1177.9,549.6 1178.2,546.9 1178.6,550.5 1178.9,543.2 1179.3,540.3 1179.6,539.0 1180.0,538.5 1180.3,543.5 1180.7,544.7 1181.0,545.5 1181.4,547.6 1181.7,546.8 1182.1,549.2 1182.4,549.5 1182.8,548.1 1183.1,555.0 1183.5,549.2 1183.8,549.6 1184.2,541.8 1184.5,537.3 1184.9,533.5 1185.2,537.5 1185.6,549.4 1185.9,548.8 1186.3,551.3 1186.6,541.9 1187.0,544.8 1187.3,535.0 1187.7,540.1 1188.0,544.3 1188.4,543.1 1188.7,544.5 1189.1,539.6 1189.4,541.0 1189.8,540.1 1190.1,539.5 1190.5,545.4 1190.8,544.3 1191.2,545.9 1191.5,539.7 1191.9,540.8 1192.2,533.4 1192.6,537.9 1192.9,533.4 1193.3,540.2 1193.6,539.9 1194.0,532.8 1194.3,535.8 1194.7,535.9 1195.0,532.6 1195.4,532.2 1195.7,543.2 1196.1,546.9 1196.4,543.0 1196.8,536.1 1197.1,532.3 1197.5,538.0 1197.8,544.7 1198.2,544.4 1198.5,544.9 1198.9,542.3 1199.2,539.5 1199.6,541.5 1199.9,534.9 1200.3,540.3 1200.6,538.3 1201.0,540.9 1201.3,533.3 1201.7,531.0 1202.0,533.5 1202.4,531.6 1202.7,539.6 1203.1,538.0 1203.4,539.0 1203.8,542.5 1204.1,540.6 1204.5,540.7 1204.8,530.8 1205.2,530.3 1205.5,530.3 1205.9,535.5 1206.2,536.3 1206.6,541.4 1206.9,539.9 1207.3,537.3 1207.6,533.6 1208.0,529.5 1208.3,526.2 1208.7,524.9 1209.0,526.3 1209.4,529.7 1209.7,534.0 1210.1,537.8 1210.4,540.5 1210.8,542.1 1211.1,544.9 1211.5,542.0 1211.8,542.1 1212.2,541.4 1212.5,541.6 1212.9,543.9 1213.2,551.0 1213.6,551.3 1213.9,552.0 1214.3,550.0 1214.6,549.0 1215.0,547.3 1215.3,546.2 1215.7,545.4 1216.0,543.8 1216.4,536.7 1216.7,534.1 1217.1,540.3 1217.4,540.6 1217.8,541.7 1218.1,543.2 1218.5,544.4 1218.8,542.9 1219.2,545.3 1219.5,551.1 1219.9,550.3 1220.2,548.7 1220.6,552.2 1220.9,551.2 1221.3,549.6 1221.6,548.9 1222.0,544.3 1222.3,538.6 1222.7,538.1 1223.0,538.7 1223.4,536.4 1223.7,545.7 1224.1,547.4 1224.4,545.3 1224.8,543.9 1225.1,541.3 1225.5,536.2 1225.8,541.4 1226.2,541.9 1226.5,540.4 1226.9,540.7 1227.2,544.2 1227.6,543.6 1227.9,543.5 1228.3,533.8 1228.6,541.2 1229.0,540.1 1229.3,542.9 1229.7,544.4 1230.0,546.3 1230.4,542.2 1230.7,543.4 1231.1,545.5 1231.4,542.2 1231.8,538.7 1232.1,543.8 1232.5,544.2 1232.8,538.3 1233.2,542.0 1233.5,536.2 1233.9,537.0 1234.2,536.5 1234.6,534.6 1234.9,540.3 1235.3,544.6 1235.6,543.7 1236.0,542.8 1236.3,542.6 1236.7,538.9 1237.0,535.9 1237.4,540.1 1237.7,544.7 1238.1,542.4 1238.4,542.0 1238.8,541.4 1239.1,538.9 1239.5,532.1 1239.8,541.3 1240.2,547.5 1240.5,543.5 1240.9,545.3 1241.2,542.6 1241.6,541.1 1241.9,539.1 1242.3,535.8 1242.6,536.5 1243.0,535.3 1243.3,540.1 1243.7,534.9 1244.0,537.9 1244.4,540.4 1244.7,539.8 1245.1,541.3 1245.4,540.1 1245.8,544.5 1246.1,544.8 1246.5,547.5 1246.8,547.4 1247.2,548.6 1247.5,542.0 1247.9,540.3 1248.2,544.7 1248.6,542.5 1248.9,538.2 1249.3,546.7 1249.6,537.6 1250.0,542.4 1250.3,543.3 1250.7,538.9 1251.0,541.9 1251.4,542.2 1251.7,542.5 1252.1,533.0 1252.4,533.1 1252.8,531.8 1253.1,536.3 1253.5,539.1 1253.8,541.4 1254.2,535.7 1254.5,542.5 1254.9,541.7 1255.2,547.0 1255.6,542.6 1255.9,542.1 1256.3,539.0 1256.6,531.5 1257.0,539.0 1257.3,535.0 1257.7,543.1 1258.0,546.5 1258.4,547.5 1258.7,550.6 1259.1,547.8 1259.4,548.8 1259.8,547.5 1260.1,555.6 1260.5,551.6 1260.8,552.5 1261.2,550.7 1261.5,552.1 1261.9,552.5 1262.2,553.8 1262.6,552.6 1262.9,544.6 1263.3,538.5 1263.6,538.1 1264.0,541.0 1264.3,540.2 1264.7,540.5 1265.0,546.0 1265.4,543.3 1265.7,553.5 1266.1,551.7 1266.4,545.6 1266.8,551.1 1267.1,550.0 1267.5,546.6 1267.8,548.1 1268.2,554.3 1268.5,551.1 1268.9,552.7 1269.2,554.6 1269.6,555.7 1269.9,554.2 1270.3,553.2 1270.6,543.1 1271.0,540.0 1271.3,552.5 1271.7,551.9 1272.0,552.3 1272.4,555.9 1272.7,554.1 1273.1,553.4 1273.4,553.6 1273.8,554.5 1274.1,558.8 1274.5,555.1 1274.8,550.9 1275.2,548.4 1275.5,554.4 1275.9,547.1 1276.2,548.4 1276.6,544.7 1276.9,548.6 1277.3,555.5 1277.6,548.9 1278.0,551.5 1278.3,550.9 1278.7,552.3 1279.0,551.0 1279.4,543.1 1279.7,540.3 1280.1,538.4 1280.4,543.2 1280.8,542.8 1281.1,548.8 1281.5,552.1 1281.8,542.4 1282.2,541.5 1282.5,544.1 1282.9,546.9 1283.2,543.4 1283.6,546.0 1283.9,553.1 1284.3,553.4 1284.6,554.1 1285.0,556.8 1285.3,557.9 1285.7,555.5 1286.0,561.2 1286.4,556.4 1286.7,554.0 1287.1,551.7 1287.4,550.5 1287.8,551.5 1288.1,549.0 1288.5,549.9 1288.8,544.8 1289.2,544.7 1289.5,545.5 1289.9,552.0 1290.2,553.9 1290.6,552.7 1290.9,554.8 1291.3,553.3 1291.6,556.0 1292.0,549.0 1292.3,547.8 1292.7,549.8 1293.0,544.6 1293.4,540.2 1293.7,537.1 1294.1,544.3 1294.4,540.9 1294.8,542.1 1295.1,552.0 1295.5,548.9 1295.8,550.5 1296.2,550.9 1296.5,548.6 1296.9,542.2 1297.2,541.1 1297.6,535.8 1297.9,545.7 1298.3,536.5 1298.6,545.3 1299.0,543.6 1299.3,545.0 1299.7,543.0 1300.0,547.7 1300.4,555.3 1300.7,553.7 1301.1,555.9 1301.4,554.4 1301.8,551.5 1302.1,548.0 1302.5,543.5 1302.8,549.4 1303.2,547.8 1303.5,549.7 1303.9,550.7 1304.2,549.3 1304.6,548.8 1304.9,552.2 1305.3,557.0 1305.6,555.4 1306.0,551.4 1306.3,547.0 1306.7,547.4 1307.0,541.0 1307.4,537.1 1307.7,549.3 1308.1,549.8 1308.4,553.2 1308.8,554.6 1309.1,554.4 1309.5,547.5 1309.8,542.6 1310.2,545.6 1310.5,549.2 1310.9,543.8 1311.2,546.1 1311.6,550.3 1311.9,549.6 1312.3,549.8 1312.6,544.8 1313.0,549.8 1313.3,554.9 1313.7,552.9 1314.0,551.8 1314.4,551.8 1314.7,551.5 1315.1,552.9 1315.4,549.6 1315.8,553.2 1316.1,557.8 1316.5,548.1 1316.8,539.5 1317.2,543.4 1317.5,543.7 1317.9,543.1 1318.2,541.9 1318.6,534.6 1318.9,539.0 1319.3,539.0 1319.6,548.7 1320.0,546.6 1320.3,542.2 1320.7,540.5 1321.0,535.7 1321.4,541.4 1321.7,543.6 1322.1,541.6 1322.4,544.7 1322.8,548.2 1323.1,547.1 1323.5,545.3 1323.8,542.8 1324.2,539.9 1324.5,537.6 1324.9,536.6 1325.2,537.5 1325.6,539.7 1325.9,542.4 1326.3,544.8 1326.6,544.0 1327.0,547.5 1327.3,547.5 1327.7,543.8 1328.0,541.0 1328.4,540.8 1328.7,545.1 1329.1,543.6 1329.4,544.9 1329.8,542.7 1330.1,543.3 1330.5,548.3 1330.8,550.3 1331.2,548.9 1331.5,550.1 1331.9,549.7 1332.2,551.6 1332.6,549.8 1332.9,549.6 1333.3,556.7 1333.6,557.4 1334.0,551.2 1334.3,549.8 1334.7,543.5 1335.0,545.4 1335.4,547.4 1335.7,545.3 1336.1,544.4 1336.4,543.4 1336.8,549.7 1337.1,545.2 1337.5,546.5 1337.8,537.6 1338.2,536.6 1338.5,537.3 1338.9,537.7 1339.2,541.0 1339.6,544.4 1339.9,546.3 1340.3,545.0 1340.6,543.5 1341.0,540.3 1341.3,549.9 1341.7,548.6 1342.0,547.5 1342.4,547.8 1342.7,548.1 1343.1,538.7 1343.4,543.1 1343.8,542.5 1344.1,545.5 1344.5,550.0 1344.8,550.6 1345.2,550.7 1345.5,552.0 1345.9,553.4 1346.2,549.0 1346.6,550.3 1346.9,548.6 1347.3,546.3 1347.6,548.0 1348.0,548.1 1348.3,542.3 1348.7,550.9 1349.0,546.8 1349.4,545.3 1349.7,544.3 1350.1,540.8 1350.4,549.3 1350.8,546.0 1351.1,546.5 1351.5,537.6 1351.8,540.5 1352.2,538.9 1352.5,544.9 1352.9,543.7 1353.2,548.5 1353.6,548.0 1353.9,545.0 1354.3,551.0 1354.6,546.3 1355.0,544.3 1355.3,541.9 1355.7,536.6 1356.0,542.2 1356.4,539.6 1356.7,541.3 1357.1,544.5 1357.4,542.0 1357.8,548.2 1358.1,546.0 1358.5,548.8 1358.8,551.4 1359.2,547.0 1359.5,549.8 1359.9,549.0 1360.2,548.5 1360.6,549.9 1360.9,552.7 1361.3,550.8 1361.6,551.8 1362.0,541.8 1362.3,539.1 1362.7,542.5 1363.0,543.7 1363.4,537.1 1363.7,538.6 1364.1,538.9 1364.4,537.4 1364.8,546.6 1365.1,543.6 1365.5,553.4 1365.8,543.7 1366.2,539.9 1366.5,540.1 1366.9,549.0 1367.2,549.7 1367.6,555.7 1367.9,554.2 1368.3,553.7 1368.6,551.0 1369.0,545.1 1369.3,543.5 1369.7,549.1 1370.0,548.7 1370.4,546.9 1370.7,556.5 1371.1,552.3 1371.4,552.9 1371.8,553.0 1372.1,550.6 1372.5,548.0 1372.8,549.6 1373.2,551.4 1373.5,550.4 1373.9,550.4 1374.2,552.3 1374.6,551.2 1374.9,551.0 1375.3,550.6 1375.6,548.4 1376.0,548.4 1376.3,541.6 1376.7,547.0 1377.0,537.7 1377.4,537.3 1377.7,544.2 1378.1,547.9 1378.4,549.6 1378.8,549.4 1379.1,539.7 1379.5,546.7 1379.8,549.6 1380.2,546.6 1380.5,548.2 1380.9,545.0 1381.2,551.2 1381.6,550.0 1381.9,552.1 1382.3,558.8 1382.6,554.0 1383.0,553.8 1383.3,554.8 1383.7,550.3 1384.0,556.3 1384.4,555.3 1384.7,554.4 1385.1,559.0 1385.4,554.1 1385.8,549.5 1386.1,549.6 1386.5,547.7 1386.8,539.9 1387.2,547.2 1387.5,547.6 1387.9,550.8 1388.2,551.8 1388.6,552.9 1388.9,543.3 1389.3,545.7 1389.6,548.9 1390.0,548.2 1390.3,549.3 1390.7,542.1 1391.0,547.8 1391.4,546.5 1391.7,550.5 1392.1,553.7 1392.4,553.1 1392.8,559.2 1393.1,557.8 1393.5,554.5 1393.8,549.5 1394.2,549.9 1394.5,554.8 1394.9,552.5 1395.2,554.2 1395.6,551.6 1395.9,549.5 1396.3,546.1 1396.6,545.1 1397.0,535.6 1397.3,536.5 1397.7,541.5 1398.0,551.2 1398.4,552.5 1398.7,550.0 1399.1,548.1 1399.4,548.7 1399.8,545.7 1400.1,542.3 1400.5,539.6 1400.8,538.7 1401.2,541.8 1401.5,544.2 1401.9,539.2 1402.2,541.7 1402.6,539.0 1402.9,538.2 1403.3,539.4 1403.6,541.4 1404.0,537.8 1404.3,541.5 1404.7,542.3 1405.0,535.4 1405.4,535.1 1405.7,535.2 1406.1,531.8 1406.4,535.9 1406.8,535.5 1407.1,528.4 1407.5,533.3 1407.8,534.4 1408.2,532.4 1408.5,535.7 1408.9,530.4 1409.2,533.6 1409.6,536.2 1409.9,542.8 1410.3,539.9 1410.6,536.1 1411.0,540.1 1411.3,538.8 1411.7,537.7 1412.0,533.4 1412.4,530.5 1412.7,536.4 1413.1,532.3 1413.4,535.5 1413.8,536.9 1414.1,546.1 1414.5,545.4 1414.8,545.5 1415.2,539.5 1415.5,542.4 1415.9,541.4 1416.2,539.6 1416.6,537.2 1416.9,534.5 1417.3,532.3 1417.6,531.4 1418.0,532.2 1418.3,534.4 1418.7,537.0 1419.0,539.4 1419.4,541.0 1419.7,542.0 1420.1,541.0 1420.4,540.5 1420.8,545.1 1421.1,547.3 1421.5,544.6 1421.8,543.1 1422.2,538.4 1422.5,540.3 1422.9,537.7 1423.2,537.5 1423.6,539.8 1423.9,534.0 1424.3,528.3 1424.6,535.1 1425.0,538.0 1425.3,539.3 1425.7,540.9 1426.0,536.2 1426.4,547.7 1426.7,538.7 1427.1,540.6 1427.4,546.9 1427.8,546.7 1428.1,544.0 1428.5,547.2 1428.8,549.7 1429.2,545.1 1429.5,545.6 1429.9,544.4 1430.2,546.7 1430.6,545.4 1430.9,547.3 1431.3,542.1 1431.6,537.8 1432.0,535.5 1432.3,545.6 1432.7,540.8 1433.0,541.5 1433.4,546.2 1433.7,544.5 1434.1,546.6 1434.4,541.7 1434.8,541.6 1435.1,549.6 1435.5,547.7 1435.8,548.7 1436.2,546.2 1436.5,544.5 1436.9,547.1 1437.2,545.8 1437.6,543.6 1437.9,544.3 1438.3,545.3 1438.6,542.3 1439.0,546.2 1439.3,542.0 1439.7,545.5 1440.0,545.1 1440.4,535.9 1440.7,530.5 1441.1,536.6 1441.4,535.8 1441.8,533.7 1442.1,542.7 1442.5,543.0 1442.8,543.9 1443.2,543.7 1443.5,544.2 1443.9,542.5 1444.2,537.6 1444.6,538.4 1444.9,539.4 1445.3,540.8 1445.6,537.3 1446.0,542.3 1446.3,539.9 1446.7,541.9 1447.0,548.2 1447.4,546.4 1447.7,549.9 1448.1,546.8 1448.4,543.7 1448.8,545.3 1449.1,542.5 1449.5,537.8 1449.8,531.4 1450.2,537.8 1450.5,540.3 1450.9,543.5 1451.2,547.2 1451.6,538.7 1451.9,537.6 1452.3,543.5 1452.6,544.0 1453.0,539.6 1453.3,541.2 1453.7,534.0 1454.0,538.9 1454.4,539.6 1454.7,541.8 1455.1,544.6 1455.4,541.9 1455.8,543.5 1456.1,547.3 1456.5,537.7 1456.8,540.2 1457.2,546.3 1457.5,544.9 1457.9,541.2 1458.2,549.7 1458.6,547.2 1458.9,545.6 1459.3,543.4 1459.6,547.0 1460.0,547.4 1460.3,538.2 1460.7,544.4 1461.0,549.0 1461.4,551.7 1461.7,549.7 1462.1,545.3 1462.4,548.0 1462.8,553.1 1463.1,551.8 1463.5,550.2 1463.8,549.6 1464.2,551.0 1464.5,556.0 1464.9,550.6 1465.2,548.1 1465.6,542.0 1465.9,545.1 1466.3,547.4 1466.6,553.9 1467.0,554.3 1467.3,548.3 1467.7,551.4 1468.0,549.2 1468.4,554.0 1468.7,550.1 1469.1,551.7 1469.4,550.3 1469.8,548.5 1470.1,555.0 1470.5,556.3 1470.8,561.3 1471.2,560.1 1471.5,559.8 1471.9,559.0 1472.2,551.8 1472.6,547.0 1472.9,540.0 1473.3,544.0 1473.6,546.4 1474.0,543.3 1474.3,539.8 1474.7,537.0 1475.0,535.9 1475.4,537.1 1475.7,539.9 1476.1,543.4 1476.4,546.6 1476.8,548.8 1477.1,548.8 1477.5,550.4 1477.8,545.1 1478.2,550.9 1478.5,553.0 1478.9,546.6 1479.2,549.4 1479.6,551.8 1479.9,545.4 1480.3,549.9 1480.6,554.7 1481.0,559.7 1481.3,556.4 1481.7,555.9 1482.0,557.1 1482.4,553.8 1482.7,560.0 1483.1,557.7 1483.4,554.6 1483.8,547.6 1484.1,554.3 1484.5,556.1 1484.8,554.8 1485.2,553.0 1485.5,551.7 1485.9,548.8 1486.2,546.5 1486.6,549.7 1486.9,551.8 1487.3,550.4 1487.6,550.5 1488.0,552.2 1488.3,553.3 1488.7,555.6 1489.0,555.4 1489.4,554.4 1489.7,554.2 1490.1,552.7 1490.4,555.6 1490.8,551.4 1491.1,547.6 1491.5,551.0 1491.8,557.0 1492.2,556.5 1492.5,557.5 1492.9,556.0 1493.2,554.9 1493.6,559.1 1493.9,556.5 1494.3,556.2 1494.6,556.6 1495.0,554.8 1495.3,553.2 1495.7,557.7 1496.0,553.3 1496.4,548.2 1496.7,546.8 1497.1,541.0 1497.4,546.2 1497.8,548.8 1498.1,548.9 1498.5,549.0 1498.8,551.0 1499.2,547.7 1499.5,543.1 1499.9,544.3 1500.2,553.9 1500.6,550.0 1500.9,557.1 1501.3,556.5 1501.6,554.8 1502.0,557.5 1502.3,562.9 1502.7,560.3 1503.0,555.4 1503.4,550.5 1503.7,552.2 1504.1,543.3 1504.4,540.8 1504.8,548.7 1505.1,550.0 1505.5,549.4 1505.8,548.4 1506.2,548.9 1506.5,547.9 1506.9,539.4 1507.2,545.5 1507.6,543.5 1507.9,544.4 1508.3,551.5 1508.6,551.8 1509.0,552.1 1509.3,549.6 1509.7,540.1 1510.0,542.2 1510.4,547.0 1510.7,547.4 1511.1,546.1 1511.4,549.2 1511.8,548.9 1512.1,541.9 1512.5,542.4 1512.8,544.2 1513.2,545.7 1513.5,550.5 1513.9,556.4 1514.2,554.5 1514.6,551.0 1514.9,558.2 1515.3,552.9 1515.6,543.7 1516.0,540.9 1516.3,544.1 1516.7,544.3 1517.0,545.4 1517.4,556.5 1517.7,556.8 1518.1,555.2 1518.4,553.2 1518.8,556.3 1519.1,557.8 1519.5,554.4 1519.8,554.8 1520.2,555.7 1520.5,557.6 1520.9,554.0 1521.2,558.0 1521.6,557.9 1521.9,555.8 1522.3,551.8 1522.6,553.6 1523.0,548.7 1523.3,548.5 1523.7,552.8 1524.0,549.7 1524.4,551.9 1524.7,557.7 1525.1,559.1 1525.4,556.6 1525.8,551.7 1526.1,543.1 1526.5,536.4 1526.8,541.9 1527.2,552.1 1527.5,552.2 1527.9,551.4 1528.2,554.3 1528.6,552.9 1528.9,549.2 1529.3,551.0 1529.6,554.8 1530.0,556.0 1530.3,553.1 1530.7,551.1 1531.0,548.0 1531.4,546.9 1531.7,554.5 1532.1,559.6 1532.4,554.4 1532.8,551.4 1533.1,547.8 1533.5,548.5 1533.8,542.0 1534.2,548.0 1534.5,540.0 1534.9,543.3 1535.2,542.5 1535.6,543.6 1535.9,538.6 1536.3,545.2 1536.6,545.2 1537.0,546.3 1537.3,548.0 1537.7,549.3 1538.0,550.1 1538.4,540.8 1538.7,545.9 1539.1,546.0 1539.4,544.4 1539.8,550.2 1540.1,543.6 1540.5,540.8 1540.8,539.4 1541.2,537.9 1541.5,546.4 1541.9,547.3 1542.2,545.6 1542.6,547.4 1542.9,547.8 1543.3,552.9 1543.6,552.8 1544.0,553.2 1544.3,549.3 1544.7,553.5 1545.0,552.2 1545.4,551.8 1545.7,547.5 1546.1,543.6 1546.4,546.6 1546.8,549.2 1547.1,545.7 1547.5,549.5 1547.8,543.6 1548.2,535.8 1548.5,542.2 1548.9,544.1 1549.2,545.4 1549.6,543.0 1549.9,547.1 1550.3,547.8 1550.6,552.5 1551.0,554.7 1551.3,550.6 1551.7,556.8 1552.0,558.2 1552.4,556.4 1552.7,551.6 1553.1,552.4 1553.4,554.1 1553.8,559.5 1554.1,561.2 1554.5,562.1 1554.8,560.1 1555.2,551.5 1555.5,554.9 1555.9,552.4 1556.2,551.0 1556.6,551.7 1556.9,557.4 1557.3,551.4 1557.6,555.6 1558.0,548.9 1558.3,546.5 1558.7,542.8 1559.0,542.2 1559.4,536.8 1559.7,541.8 1560.1,541.4 1560.4,541.5 1560.8,548.0 1561.1,548.6 1561.5,550.3 1561.8,552.7 1562.2,551.9 1562.5,552.2 1562.9,556.0 1563.2,551.7 1563.6,542.4 1563.9,544.8 1564.3,546.3 1564.6,548.9 1565.0,540.6 1565.3,540.1 1565.7,544.6 1566.0,549.1 1566.4,548.4 1566.7,545.6 1567.1,538.8 1567.4,543.7 1567.8,535.8 1568.1,542.1 1568.5,545.5 1568.8,543.9 1569.2,543.6 1569.5,544.8 1569.9,539.9 1570.2,544.0 1570.6,542.5 1570.9,550.8 1571.3,545.2 1571.6,546.0 1572.0,538.4 1572.3,543.7 1572.7,547.2 1573.0,542.3 1573.4,534.0 1573.7,541.0 1574.1,538.2 1574.4,547.6 1574.8,545.7 1575.1,546.1 1575.5,551.0 1575.8,551.2 1576.2,548.6 1576.5,544.9 1576.9,545.8 1577.2,546.0 1577.6,537.8 1577.9,539.2 1578.3,532.1 1578.6,543.3 1579.0,548.2 1579.3,549.4 1579.7,544.5 1580.0,547.4 1580.4,550.0 1580.7,555.4 1581.1,551.6 1581.4,552.1 1581.8,551.4 1582.1,542.6 1582.5,538.9 1582.8,538.1 1583.2,540.5 1583.5,541.2 1583.9,538.8 1584.2,538.0 1584.6,545.6 1584.9,542.2 1585.3,539.9 1585.6,548.7 1586.0,544.2 1586.3,543.2 1586.7,541.9 1587.0,548.6 1587.4,546.2 1587.7,547.7 1588.1,548.6 1588.4,549.6 1588.8,544.1 1589.1,546.8 1589.5,547.1 1589.8,551.3 1590.2,549.1 1590.5,546.8 1590.9,551.7 1591.2,551.7 1591.6,555.4 1591.9,552.8 1592.3,558.2 1592.6,554.0 1593.0,551.5 1593.3,548.2 1593.7,545.2 1594.0,549.1 1594.4,545.3 1594.7,541.5 1595.1,544.1 1595.4,536.7 1595.8,541.4 1596.1,544.3 1596.5,547.0 1596.8,553.4 1597.2,556.2 1597.5,548.6 1597.9,542.9 1598.2,544.7 1598.6,540.9 1598.9,543.9 1599.3,536.7 1599.6,532.1 1600.0,535.2 1600.3,540.2 1600.7,541.3 1601.0,533.3 1601.4,546.3 1601.7,547.9 1602.1,546.6 1602.4,548.2 1602.8,545.7 1603.1,545.9 1603.5,541.5 1603.8,535.0 1604.2,543.8 1604.5,542.0 1604.9,540.8 1605.2,548.2 1605.6,550.7 1605.9,550.3 1606.3,550.9 1606.6,547.2 1607.0,548.3 1607.3,544.0 1607.7,546.5 1608.0,543.1 1608.4,537.4 1608.7,535.7 1609.1,548.5 1609.4,552.0 1609.8,553.0 1610.1,554.6 1610.5,553.3 1610.8,550.1 1611.2,549.8 1611.5,547.3 1611.9,544.6 1612.2,550.2 1612.6,549.4 1612.9,546.2 1613.3,545.9 1613.6,544.0 1614.0,540.1 1614.3,534.5 1614.7,530.4 1615.0,545.1 1615.4,544.5 1615.7,550.8 1616.1,550.7 1616.4,548.1 1616.8,550.5 1617.1,549.5 1617.5,550.0 1617.8,548.7 1618.2,549.3 1618.5,550.5 1618.9,549.9 1619.2,542.8 1619.6,540.9 1619.9,546.9 1620.3,547.5 1620.6,544.3 1621.0,547.6 1621.0,547.6" fill="none" stroke="#000" stroke-width="3.5" stroke-linejoin="round" stroke-linecap="round"/>
<path d="M971.5,52.9 C972.2,60.7 974.8,85.2 975.8,99.6 C976.8,114.0 977.1,126.1 977.8,139.4 C978.5,152.7 979.1,167.6 979.8,179.2 C980.5,190.8 980.8,199.1 981.8,209.0 C982.8,218.9 984.1,227.2 985.8,238.8 C987.4,250.4 989.4,265.4 991.7,278.6 C994.0,291.9 996.7,304.8 999.7,318.3 C1002.7,331.8 1006.4,347.1 1009.8,359.6 C1013.1,372.1 1016.1,383.4 1019.8,393.4 C1023.4,403.3 1027.4,411.3 1031.7,419.3 C1036.0,427.3 1041.9,434.6 1045.6,441.2 C1049.2,447.8 1050.6,452.1 1053.6,459.0 C1056.6,465.9 1060.2,475.3 1063.5,482.9 C1066.8,490.5 1069.8,497.5 1073.4,504.8 C1077.1,512.1 1081.8,520.6 1085.4,526.6 C1089.1,532.6 1092.0,537.5 1095.3,540.6 C1098.6,543.8 1101.2,545.5 1105.2,545.5 C1109.2,545.5 1113.9,543.2 1119.2,540.6 C1124.5,538.0 1132.1,530.9 1137.1,529.6 C1142.1,528.3 1144.7,530.5 1149.0,532.6 C1153.3,534.8 1159.1,540.3 1162.9,542.5 C1166.7,544.7 1167.7,544.8 1171.6,546.0 C1175.5,547.2 1181.6,550.2 1186.2,549.6 C1190.8,549.0 1194.0,543.4 1199.3,542.4 C1204.6,541.4 1211.9,544.2 1218.2,543.8 C1224.5,543.4 1232.2,540.6 1237.1,540.2 C1241.9,539.8 1243.2,540.3 1247.3,541.6 C1251.4,542.9 1254.5,546.9 1261.8,548.2 C1269.1,549.5 1282.4,549.2 1290.9,549.6 C1299.4,550.0 1305.4,550.8 1312.7,550.4 C1320.0,550.0 1326.0,547.9 1334.5,547.5 C1343.0,547.1 1354.3,548.1 1363.6,548.2 C1372.8,548.3 1383.2,548.8 1390.0,548.2 C1396.8,547.6 1398.4,545.5 1404.5,544.5 C1410.6,543.5 1420.3,542.5 1426.4,542.4 C1432.5,542.3 1436.1,542.8 1440.9,543.8 C1445.8,544.8 1449.4,547.0 1455.5,548.2 C1461.6,549.4 1467.6,550.5 1477.3,551.1 C1487.0,551.7 1503.9,551.8 1513.6,551.8 C1523.3,551.8 1528.2,551.6 1535.5,551.1 C1542.8,550.6 1551.2,548.8 1557.3,548.9 C1563.3,549.0 1564.5,551.7 1571.8,551.8 C1579.1,551.9 1593.4,549.8 1600.9,549.6 C1608.4,549.4 1613.5,549.7 1616.9,550.4 C1620.3,551.1 1620.5,552.2 1621.3,554.0 C1622.1,555.8 1621.9,560.1 1622.0,561.3" fill="none" stroke="#f00" stroke-width="6" stroke-linejoin="round" stroke-linecap="butt"/>
<g font-family='"Liberation Sans", Arial, sans-serif' font-size="44.8" fill="#000">
<text x="964.9" y="656.5" text-anchor="middle">0</text>
<text x="1074.6" y="656.5" text-anchor="middle">5</text>
<text x="1184.2" y="656.5" text-anchor="middle">10</text>
<text x="1293.9" y="656.5" text-anchor="middle">15</text>
<text x="1403.6" y="656.5" text-anchor="middle">20</text>
<text x="1513.2" y="656.5" text-anchor="middle">25</text>
<text x="1622.9" y="656.5" text-anchor="middle">30</text>
<text x="912.9" y="583.1" text-anchor="end">0</text>
<text x="912.9" y="496.7" text-anchor="end">5</text>
<text x="912.9" y="410.4" text-anchor="end">10</text>
<text x="912.9" y="324.0" text-anchor="end">15</text>
<text x="912.9" y="237.6" text-anchor="end">20</text>
<text x="912.9" y="151.3" text-anchor="end">25</text>
<text x="912.9" y="64.9" text-anchor="end">30</text>
</g>
<g stroke="#000" stroke-width="5.8" stroke-linecap="round" stroke-linejoin="round" fill="none">
<rect x="151.9" y="752.2" width="658.1" height="518.8"/>
<line x1="151.9" y1="1271.0" x2="151.9" y2="1301.0"/>
<line x1="306.9" y1="1271.0" x2="306.9" y2="1301.0"/>
<line x1="461.9" y1="1271.0" x2="461.9" y2="1301.0"/>
<line x1="616.9" y1="1271.0" x2="616.9" y2="1301.0"/>
<line x1="771.9" y1="1271.0" x2="771.9" y2="1301.0"/>
<line x1="229.4" y1="1271.0" x2="229.4" y2="1286.0"/>
<line x1="384.4" y1="1271.0" x2="384.4" y2="1286.0"/>
<line x1="539.4" y1="1271.0" x2="539.4" y2="1286.0"/>
<line x1="694.4" y1="1271.0" x2="694.4" y2="1286.0"/>
<line x1="151.9" y1="1271.0" x2="121.9" y2="1271.0"/>
<line x1="151.9" y1="1141.3" x2="121.9" y2="1141.3"/>
<line x1="151.9" y1="1011.6" x2="121.9" y2="1011.6"/>
<line x1="151.9" y1="881.9" x2="121.9" y2="881.9"/>
<line x1="151.9" y1="752.2" x2="121.9" y2="752.2"/>
<line x1="151.9" y1="1206.2" x2="136.9" y2="1206.2"/>
<line x1="151.9" y1="1076.5" x2="136.9" y2="1076.5"/>
<line x1="151.9" y1="946.8" x2="136.9" y2="946.8"/>
<line x1="151.9" y1="817.1" x2="136.9" y2="817.1"/>
</g>
<path d="M152.5,1259.0 152.8,1256.3 153.1,1240.9 153.4,1235.5 153.7,1235.4 154.0,1232.2 154.3,1233.4 154.6,1223.6 154.9,1230.5 155.2,1227.2 155.5,1237.6 155.8,1233.3 156.1,1228.1 156.4,1224.4 156.7,1220.9 157.0,1207.8 157.3,1208.3 157.6,1217.6 157.9,1239.4 158.2,1227.3 158.5,1224.9 158.8,1221.3 159.1,1216.8 159.4,1212.3 159.7,1208.9 160.0,1207.9 160.3,1209.5 160.6,1213.4 160.9,1218.4 161.2,1223.5 161.5,1227.8 161.8,1230.9 162.1,1243.9 162.4,1238.8 162.7,1221.2 163.0,1238.4 163.3,1237.8 163.6,1234.2 163.9,1228.2 164.2,1225.6 164.5,1238.9 164.8,1228.7 165.1,1227.4 165.4,1234.3 165.7,1233.9 166.0,1238.3 166.3,1235.8 166.6,1236.1 166.9,1250.2 167.2,1249.6 167.5,1242.8 167.8,1225.4 168.1,1223.4 168.4,1221.7 168.7,1235.2 169.0,1234.2 169.3,1243.4 169.6,1247.4 169.9,1248.9 170.2,1247.8 170.5,1232.6 170.8,1249.2 171.1,1233.0 171.4,1239.1 171.7,1241.9 172.0,1242.5 172.3,1248.9 172.6,1230.9 172.9,1229.3 173.2,1242.8 173.5,1226.5 173.8,1216.5 174.1,1226.4 174.4,1234.6 174.7,1221.7 175.0,1238.3 175.3,1251.1 175.6,1250.8 175.9,1238.9 176.2,1245.5 176.5,1238.1 176.8,1235.8 177.1,1245.2 177.4,1250.5 177.7,1254.5 178.0,1239.4 178.3,1243.3 178.6,1233.4 178.9,1226.7 179.2,1238.4 179.5,1232.2 179.8,1246.7 180.1,1249.3 180.4,1241.8 180.7,1234.2 181.0,1231.7 181.3,1245.8 181.6,1239.1 181.9,1235.1 182.2,1244.5 182.5,1245.0 182.8,1234.0 183.1,1246.4 183.4,1237.7 183.7,1242.0 184.0,1244.3 184.3,1246.9 184.6,1250.5 184.9,1254.0 185.2,1256.6 185.5,1257.5 185.8,1256.3 186.1,1253.4 186.4,1249.5 186.7,1245.7 187.0,1242.8 187.3,1248.5 187.6,1252.9 187.9,1249.2 188.2,1247.9 188.5,1244.7 188.8,1246.0 189.1,1244.0 189.4,1223.9 189.7,1240.6 190.0,1232.8 190.3,1237.5 190.6,1239.9 190.9,1231.2 191.2,1232.3 191.5,1233.6 191.8,1233.5 192.1,1230.0 192.4,1226.4 192.7,1228.4 193.0,1230.9 193.3,1222.9 193.6,1223.9 193.9,1228.1 194.2,1231.5 194.5,1242.7 194.8,1240.3 195.1,1238.8 195.4,1241.2 195.7,1252.4 196.0,1245.3 196.3,1243.4 196.6,1254.1 196.9,1241.0 197.2,1241.6 197.5,1239.1 197.8,1241.1 198.1,1248.3 198.4,1227.5 198.7,1245.9 199.0,1250.2 199.3,1242.9 199.6,1240.4 199.9,1240.0 200.2,1240.3 200.5,1235.8 200.8,1233.0 201.1,1235.5 201.4,1245.0 201.7,1242.9 202.0,1222.8 202.3,1231.9 202.6,1231.1 202.9,1227.9 203.2,1225.0 203.5,1229.7 203.8,1232.5 204.1,1238.1 204.4,1238.6 204.7,1232.6 205.0,1232.3 205.3,1226.7 205.6,1239.0 205.9,1236.6 206.2,1239.5 206.5,1235.7 206.8,1241.2 207.1,1238.6 207.4,1235.8 207.7,1237.7 208.0,1239.4 208.3,1239.8 208.6,1237.3 208.9,1236.6 209.2,1236.1 209.5,1231.8 209.8,1230.5 210.1,1237.5 210.4,1239.4 210.7,1241.0 211.0,1242.5 211.3,1244.4 211.6,1243.9 211.9,1241.3 212.2,1242.1 212.5,1252.8 212.8,1246.7 213.1,1254.3 213.4,1250.1 213.7,1247.2 214.0,1242.6 214.3,1229.3 214.6,1234.7 214.9,1242.4 215.2,1230.5 215.5,1239.1 215.8,1240.2 216.1,1243.7 216.4,1247.7 216.7,1246.0 217.0,1229.1 217.3,1218.4 217.6,1228.9 217.9,1230.1 218.2,1231.0 218.5,1244.3 218.8,1249.4 219.1,1243.0 219.4,1236.3 219.7,1246.6 220.0,1234.4 220.3,1228.0 220.6,1237.0 220.9,1239.9 221.2,1222.8 221.5,1231.9 221.8,1242.1 222.1,1244.1 222.4,1246.8 222.7,1253.4 223.0,1253.3 223.3,1255.7 223.6,1256.5 223.9,1255.6 224.2,1253.2 224.5,1249.9 224.8,1246.6 225.1,1245.1 225.4,1242.0 225.7,1225.7 226.0,1240.5 226.3,1237.9 226.6,1249.8 226.9,1238.4 227.2,1235.2 227.5,1232.5 227.8,1216.6 228.1,1235.0 228.4,1224.1 228.7,1227.3 229.0,1237.1 229.3,1227.8 229.6,1227.2 229.9,1221.0 230.2,1233.9 230.5,1234.1 230.8,1231.2 231.1,1239.5 231.4,1238.0 231.7,1229.4 232.0,1221.3 232.3,1213.5 232.6,1216.7 232.9,1230.9 233.2,1228.9 233.5,1230.7 233.8,1235.0 234.1,1238.3 234.4,1246.5 234.7,1233.2 235.0,1229.9 235.3,1225.3 235.6,1219.7 235.9,1214.2 236.2,1210.0 236.5,1208.4 236.8,1209.8 237.1,1213.7 237.4,1219.0 237.7,1224.4 238.0,1228.8 238.3,1231.9 238.6,1236.0 238.9,1234.8 239.2,1236.1 239.5,1230.0 239.8,1239.6 240.1,1248.6 240.4,1244.7 240.7,1243.5 241.0,1237.2 241.3,1235.9 241.6,1237.7 241.9,1220.5 242.2,1228.0 242.5,1247.1 242.8,1234.5 243.1,1240.8 243.4,1233.0 243.7,1245.4 244.0,1246.0 244.3,1242.2 244.6,1245.4 244.9,1243.4 245.2,1241.0 245.5,1235.0 245.8,1242.5 246.1,1246.1 246.4,1238.0 246.7,1239.8 247.0,1239.9 247.3,1237.2 247.6,1232.2 247.9,1241.9 248.2,1221.5 248.5,1233.0 248.8,1234.0 249.1,1232.0 249.4,1230.6 249.7,1229.3 250.0,1229.3 250.3,1239.3 250.6,1234.5 250.9,1232.0 251.2,1236.6 251.5,1227.9 251.8,1234.5 252.1,1236.2 252.4,1226.1 252.7,1228.4 253.0,1227.1 253.3,1227.5 253.6,1228.5 253.9,1224.6 254.2,1235.7 254.5,1231.5 254.8,1223.3 255.1,1216.2 255.4,1226.6 255.7,1213.9 256.0,1214.3 256.3,1223.7 256.6,1229.2 256.9,1224.5 257.2,1239.3 257.5,1239.0 257.8,1219.7 258.1,1234.8 258.4,1236.0 258.7,1236.0 259.0,1244.5 259.3,1248.3 259.6,1238.6 259.9,1226.0 260.2,1224.5 260.5,1220.9 260.8,1216.7 261.1,1212.4 261.4,1209.2 261.7,1208.1 262.0,1209.3 262.3,1212.5 262.6,1216.8 262.9,1221.1 263.2,1224.8 263.5,1227.3 263.8,1231.6 264.1,1234.8 264.4,1241.9 264.7,1232.0 265.0,1237.6 265.3,1237.2 265.6,1225.5 265.9,1223.0 266.2,1217.5 266.5,1234.5 266.8,1238.1 267.1,1229.7 267.4,1232.7 267.7,1229.0 268.0,1223.2 268.3,1222.6 268.6,1227.6 268.9,1241.6 269.2,1240.4 269.5,1239.8 269.8,1242.8 270.1,1232.5 270.4,1242.1 270.7,1244.5 271.0,1239.9 271.3,1237.2 271.6,1234.0 271.9,1220.4 272.2,1229.1 272.5,1234.1 272.8,1223.1 273.1,1231.9 273.4,1229.2 273.7,1236.3 274.0,1238.7 274.3,1242.0 274.6,1246.0 274.9,1250.0 275.2,1253.0 275.5,1254.2 275.8,1253.3 276.1,1250.5 276.4,1246.7 276.7,1242.9 277.0,1239.7 277.3,1237.6 277.6,1227.0 277.9,1229.5 278.2,1240.3 278.5,1249.9 278.8,1243.7 279.1,1240.0 279.4,1225.0 279.7,1240.9 280.0,1244.0 280.3,1243.4 280.6,1230.3 280.9,1236.8 281.2,1243.8 281.5,1225.0 281.8,1228.4 282.1,1215.9 282.4,1226.8 282.7,1234.1 283.0,1237.1 283.3,1231.9 283.6,1233.7 283.9,1224.2 284.2,1226.6 284.5,1216.4 284.8,1221.8 285.1,1227.5 285.4,1233.1 285.7,1246.7 286.0,1226.3 286.3,1244.0 286.6,1234.3 286.9,1237.5 287.2,1233.6 287.5,1243.4 287.8,1252.5 288.1,1242.5 288.4,1239.2 288.7,1224.7 289.0,1215.5 289.3,1239.2 289.6,1237.4 289.9,1234.7 290.2,1231.7 290.5,1234.2 290.8,1232.2 291.1,1231.9 291.4,1228.3 291.7,1232.5 292.0,1244.3 292.3,1244.8 292.6,1244.6 292.9,1230.9 293.2,1242.5 293.5,1230.1 293.8,1230.6 294.1,1240.4 294.4,1235.9 294.7,1225.2 295.0,1223.9 295.3,1228.7 295.6,1234.5 295.9,1226.4 296.2,1228.7 296.5,1230.7 296.8,1226.5 297.1,1232.8 297.4,1218.4 297.7,1227.9 298.0,1239.2 298.3,1242.3 298.6,1252.5 298.9,1253.4 299.2,1228.4 299.5,1235.3 299.8,1231.9 300.1,1227.5 300.4,1227.4 300.7,1229.5 301.0,1228.2 301.3,1213.3 301.6,1221.9 301.9,1224.1 302.2,1231.1 302.5,1232.2 302.8,1225.0 303.1,1225.4 303.4,1220.6 303.7,1221.8 304.0,1224.3 304.3,1224.0 304.6,1211.2 304.9,1203.7 305.2,1213.9 305.5,1216.4 305.8,1222.8 306.1,1226.5 306.4,1226.3 306.7,1216.6 307.0,1213.8 307.3,1223.8 307.6,1220.9 307.9,1225.1 308.2,1226.1 308.5,1227.9 308.8,1230.1 309.1,1243.7 309.4,1234.2 309.7,1238.9 310.0,1239.9 310.3,1233.4 310.6,1224.8 310.9,1217.2 311.2,1230.8 311.5,1228.3 311.8,1224.9 312.1,1226.1 312.4,1228.2 312.7,1223.8 313.0,1209.2 313.3,1222.4 313.6,1228.6 313.9,1216.8 314.2,1217.6 314.5,1224.2 314.8,1218.6 315.1,1221.5 315.4,1220.3 315.7,1223.1 316.0,1219.8 316.3,1223.8 316.6,1215.4 316.9,1223.5 317.2,1230.3 317.5,1237.6 317.8,1238.1 318.1,1241.6 318.4,1247.8 318.7,1235.5 319.0,1224.9 319.3,1223.0 319.6,1219.6 319.9,1215.5 320.2,1211.4 320.5,1208.4 320.8,1207.3 321.1,1208.4 321.4,1211.5 321.7,1214.7 322.0,1219.7 322.3,1223.2 322.6,1224.3 322.9,1224.9 323.2,1221.9 323.5,1228.4 323.8,1233.3 324.1,1214.5 324.4,1216.3 324.7,1219.8 325.0,1217.7 325.3,1220.6 325.6,1225.7 325.9,1229.6 326.2,1226.3 326.5,1234.6 326.8,1241.2 327.1,1229.4 327.4,1211.8 327.7,1228.4 328.0,1229.2 328.3,1230.1 328.6,1228.0 328.9,1227.5 329.2,1230.6 329.5,1228.1 329.8,1228.3 330.1,1224.7 330.4,1232.0 330.7,1234.1 331.0,1234.6 331.3,1214.8 331.6,1228.2 331.9,1239.1 332.2,1231.2 332.5,1227.5 332.8,1230.4 333.1,1227.3 333.4,1217.9 333.7,1222.5 334.0,1226.2 334.3,1220.6 334.6,1220.1 334.9,1222.2 335.2,1211.2 335.5,1221.9 335.8,1224.0 336.1,1230.3 336.4,1233.3 336.7,1238.7 337.0,1236.7 337.3,1242.0 337.6,1247.5 337.9,1239.2 338.2,1244.7 338.5,1232.2 338.8,1225.9 339.1,1231.3 339.4,1238.2 339.7,1232.0 340.0,1227.3 340.3,1226.0 340.6,1237.5 340.9,1221.4 341.2,1220.7 341.5,1228.9 341.8,1229.9 342.1,1228.2 342.4,1226.5 342.7,1233.2 343.0,1235.1 343.3,1241.3 343.6,1237.6 343.9,1236.5 344.2,1239.5 344.5,1237.4 344.8,1245.9 345.1,1246.7 345.4,1236.7 345.7,1238.6 346.0,1247.2 346.3,1237.3 346.6,1234.2 346.9,1240.9 347.2,1238.2 347.5,1245.6 347.8,1248.1 348.1,1249.9 348.4,1247.4 348.7,1244.7 349.0,1246.9 349.3,1250.4 349.6,1253.0 349.9,1254.0 350.2,1253.1 350.5,1250.5 350.8,1247.2 351.1,1243.7 351.4,1242.7 351.7,1240.6 352.0,1239.8 352.3,1252.0 352.6,1238.7 352.9,1238.3 353.2,1238.0 353.5,1241.2 353.8,1242.7 354.1,1242.2 354.4,1237.4 354.7,1240.7 355.0,1234.2 355.3,1237.0 355.6,1237.7 355.9,1237.1 356.2,1236.7 356.5,1228.7 356.8,1235.6 357.1,1243.8 357.4,1238.0 357.7,1247.9 358.0,1242.0 358.3,1240.4 358.6,1229.7 358.9,1233.5 359.2,1225.9 359.5,1233.4 359.8,1229.7 360.1,1228.4 360.4,1232.3 360.7,1242.2 361.0,1246.7 361.3,1256.3 361.6,1245.3 361.9,1247.2 362.2,1247.8 362.5,1240.1 362.8,1253.7 363.1,1251.4 363.4,1231.2 363.7,1229.8 364.0,1237.0 364.3,1228.6 364.6,1219.0 364.9,1227.3 365.2,1230.3 365.5,1229.9 365.8,1238.3 366.1,1224.2 366.4,1225.8 366.7,1234.8 367.0,1230.3 367.3,1242.1 367.6,1237.5 367.9,1229.0 368.2,1230.7 368.5,1221.1 368.8,1225.6 369.1,1234.5 369.4,1231.7 369.7,1237.7 370.0,1232.3 370.3,1245.6 370.6,1242.9 370.9,1236.8 371.2,1234.4 371.5,1233.3 371.8,1226.1 372.1,1213.9 372.4,1219.3 372.7,1241.0 373.0,1240.0 373.3,1222.8 373.6,1232.8 373.9,1240.4 374.2,1251.2 374.5,1257.6 374.8,1244.7 375.1,1241.8 375.4,1253.9 375.7,1251.9 376.0,1246.3 376.3,1239.9 376.6,1245.9 376.9,1238.5 377.2,1242.1 377.5,1242.0 377.8,1236.8 378.1,1241.2 378.4,1239.1 378.7,1244.7 379.0,1225.7 379.3,1236.3 379.6,1230.7 379.9,1239.3 380.2,1240.8 380.5,1232.7 380.8,1245.0 381.1,1235.7 381.4,1245.0 381.7,1248.7 382.0,1243.5 382.3,1238.9 382.6,1226.1 382.9,1225.4 383.2,1232.1 383.5,1235.7 383.8,1230.8 384.1,1237.0 384.4,1231.4 384.7,1231.0 385.0,1235.7 385.3,1234.3 385.6,1234.5 385.9,1228.8 386.2,1228.3 386.5,1225.2 386.8,1243.3 387.1,1235.0 387.4,1240.3 387.7,1248.1 388.0,1236.9 388.3,1234.4 388.6,1239.2 388.9,1239.0 389.2,1237.3 389.5,1227.4 389.8,1244.3 390.1,1238.9 390.4,1232.4 390.7,1229.9 391.0,1234.8 391.3,1226.8 391.6,1233.1 391.9,1227.0 392.2,1222.8 392.5,1236.8 392.8,1231.3 393.1,1231.4 393.4,1234.1 393.7,1229.7 394.0,1229.8 394.3,1244.4 394.6,1234.0 394.9,1234.5 395.2,1233.8 395.5,1215.1 395.8,1217.8 396.1,1217.4 396.4,1230.0 396.7,1237.6 397.0,1235.7 397.3,1221.6 397.6,1231.1 397.9,1226.1 398.2,1230.4 398.5,1225.3 398.8,1229.6 399.1,1225.4 399.4,1226.5 399.7,1234.5 400.0,1217.2 400.3,1227.9 400.6,1228.0 400.9,1236.0 401.2,1232.8 401.5,1227.8 401.8,1221.7 402.1,1211.8 402.4,1215.1 402.7,1210.5 403.0,1205.9 403.3,1202.5 403.6,1201.2 403.9,1202.3 404.2,1205.5 404.5,1209.9 404.8,1214.3 405.1,1209.5 405.4,1209.8 405.7,1221.0 406.0,1216.6 406.3,1227.0 406.6,1224.0 406.9,1225.7 407.2,1226.2 407.5,1217.4 407.8,1213.5 408.1,1218.7 408.4,1215.9 408.7,1222.7 409.0,1220.8 409.3,1217.5 409.6,1214.9 409.9,1210.9 410.2,1216.6 410.5,1221.4 410.8,1216.2 411.1,1213.2 411.4,1215.3 411.7,1218.0 412.0,1215.0 412.3,1223.0 412.6,1226.6 412.9,1219.9 413.2,1221.6 413.5,1216.2 413.8,1213.4 414.1,1213.9 414.4,1213.8 414.7,1207.3 415.0,1211.4 415.3,1209.6 415.6,1212.8 415.9,1200.6 416.2,1223.2 416.5,1226.7 416.8,1223.4 417.1,1226.9 417.4,1228.2 417.7,1230.8 418.0,1224.9 418.3,1228.4 418.6,1230.2 418.9,1228.0 419.2,1227.2 419.5,1226.7 419.8,1222.0 420.1,1218.3 420.4,1223.4 420.7,1213.9 421.0,1229.5 421.3,1222.2 421.6,1225.8 421.9,1217.8 422.2,1220.1 422.5,1226.9 422.8,1221.0 423.1,1222.2 423.4,1222.0 423.7,1231.2 424.0,1225.5 424.3,1230.3 424.6,1230.3 424.9,1226.1 425.2,1239.9 425.5,1231.1 425.8,1231.6 426.1,1225.9 426.4,1239.5 426.7,1220.9 427.0,1212.2 427.3,1223.1 427.6,1235.6 427.9,1230.9 428.2,1217.4 428.5,1216.4 428.8,1230.4 429.1,1238.5 429.4,1231.7 429.7,1232.1 430.0,1228.2 430.3,1232.0 430.6,1232.0 430.9,1221.2 431.2,1221.9 431.5,1224.2 431.8,1229.5 432.1,1231.0 432.4,1233.2 432.7,1228.7 433.0,1232.7 433.3,1229.4 433.6,1232.0 433.9,1244.9 434.2,1234.5 434.5,1232.8 434.8,1246.0 435.1,1233.0 435.4,1220.1 435.7,1224.4 436.0,1222.8 436.3,1225.6 436.6,1231.1 436.9,1219.2 437.2,1209.2 437.5,1225.8 437.8,1236.7 438.1,1239.0 438.4,1234.0 438.7,1232.8 439.0,1226.2 439.3,1228.6 439.6,1228.7 439.9,1233.6 440.2,1223.7 440.5,1208.6 440.8,1212.0 441.1,1213.6 441.4,1214.4 441.7,1223.7 442.0,1212.2 442.3,1215.2 442.6,1222.1 442.9,1222.7 443.2,1228.3 443.5,1231.7 443.8,1230.2 444.1,1244.0 444.4,1238.7 444.7,1228.4 445.0,1232.4 445.3,1228.0 445.6,1218.0 445.9,1234.3 446.2,1236.3 446.5,1220.8 446.8,1224.4 447.1,1209.4 447.4,1218.7 447.7,1223.2 448.0,1215.3 448.3,1223.6 448.6,1235.8 448.9,1222.5 449.2,1219.2 449.5,1221.2 449.8,1223.4 450.1,1232.4 450.4,1232.6 450.7,1227.1 451.0,1214.9 451.3,1214.5 451.6,1209.6 451.9,1219.0 452.2,1225.3 452.5,1224.1 452.8,1225.6 453.1,1221.8 453.4,1229.9 453.7,1241.6 454.0,1219.0 454.3,1220.9 454.6,1221.2 454.9,1223.9 455.2,1229.4 455.5,1243.8 455.8,1222.1 456.1,1223.5 456.4,1229.6 456.7,1229.6 457.0,1235.3 457.3,1226.2 457.6,1221.1 457.9,1212.7 458.2,1226.2 458.5,1230.2 458.8,1219.8 459.1,1226.5 459.4,1226.5 459.7,1218.4 460.0,1219.0 460.3,1219.6 460.6,1220.1 460.9,1216.0 461.2,1229.8 461.5,1234.1 461.8,1230.3 462.1,1235.0 462.4,1220.3 462.7,1232.8 463.0,1225.2 463.3,1232.0 463.6,1232.1 463.9,1231.1 464.2,1236.0 464.5,1221.1 464.8,1234.5 465.1,1233.2 465.4,1230.1 465.7,1227.0 466.0,1228.7 466.3,1231.3 466.6,1227.3 466.9,1238.5 467.2,1237.8 467.5,1234.1 467.8,1239.8 468.1,1233.9 468.4,1229.4 468.7,1235.6 469.0,1230.4 469.3,1220.8 469.6,1225.7 469.9,1220.0 470.2,1219.1 470.5,1227.7 470.8,1227.8 471.1,1222.9 471.4,1225.7 471.7,1236.0 472.0,1232.1 472.3,1238.9 472.6,1235.5 472.9,1215.5 473.2,1219.5 473.5,1223.2 473.8,1224.1 474.1,1228.4 474.4,1219.5 474.7,1215.6 475.0,1211.9 475.3,1232.5 475.6,1233.5 475.9,1218.5 476.2,1218.9 476.5,1227.8 476.8,1231.3 477.1,1227.2 477.4,1220.8 477.7,1221.6 478.0,1218.4 478.3,1205.4 478.6,1199.7 478.9,1206.0 479.2,1217.0 479.5,1214.3 479.8,1207.4 480.1,1213.5 480.4,1212.8 480.7,1219.2 481.0,1219.8 481.3,1216.3 481.6,1211.3 481.9,1212.0 482.2,1206.6 482.5,1197.0 482.8,1211.3 483.1,1215.5 483.4,1219.5 483.7,1216.6 484.0,1211.5 484.3,1202.6 484.6,1207.2 484.9,1208.7 485.2,1207.0 485.5,1207.1 485.8,1209.1 486.1,1204.7 486.4,1210.2 486.7,1203.7 487.0,1207.6 487.3,1222.6 487.6,1205.7 487.9,1201.3 488.2,1195.2 488.5,1187.8 488.8,1180.4 489.1,1174.9 489.4,1172.7 489.7,1174.5 490.0,1179.6 490.3,1186.6 490.6,1193.6 490.9,1199.4 491.2,1202.9 491.5,1196.5 491.8,1200.6 492.1,1187.5 492.4,1180.5 492.7,1198.1 493.0,1198.4 493.3,1189.7 493.6,1191.8 493.9,1207.9 494.2,1204.4 494.5,1196.3 494.8,1206.0 495.1,1208.9 495.4,1209.7 495.7,1212.5 496.0,1206.5 496.3,1189.4 496.6,1182.0 496.9,1177.2 497.2,1199.5 497.5,1204.4 497.8,1217.6 498.1,1213.6 498.4,1207.1 498.7,1189.5 499.0,1185.3 499.3,1196.6 499.6,1205.3 499.9,1204.6 500.2,1205.9 500.5,1190.8 500.8,1183.9 501.1,1197.1 501.4,1212.9 501.7,1197.8 502.0,1205.4 502.3,1212.6 502.6,1209.1 502.9,1214.9 503.2,1213.6 503.5,1223.8 503.8,1223.6 504.1,1211.2 504.4,1203.7 504.7,1201.7 505.0,1202.2 505.3,1199.1 505.6,1196.0 505.9,1193.8 506.2,1193.3 506.5,1194.7 506.8,1197.7 507.1,1201.6 507.4,1205.5 507.7,1208.8 508.0,1211.2 508.3,1214.4 508.6,1215.7 508.9,1212.2 509.2,1216.0 509.5,1218.6 509.8,1207.8 510.1,1213.1 510.4,1215.3 510.7,1222.9 511.0,1224.4 511.3,1220.3 511.6,1224.1 511.9,1223.6 512.2,1219.3 512.5,1225.1 512.8,1218.4 513.1,1221.7 513.4,1215.0 513.7,1223.1 514.0,1215.6 514.3,1209.8 514.6,1219.4 514.9,1217.7 515.2,1212.2 515.5,1221.4 515.8,1211.0 516.1,1213.3 516.4,1220.9 516.7,1226.3 517.0,1224.9 517.3,1231.1 517.6,1224.4 517.9,1225.0 518.2,1214.7 518.5,1230.8 518.8,1222.3 519.1,1228.5 519.4,1218.0 519.7,1219.8 520.0,1203.4 520.3,1209.2 520.6,1218.2 520.9,1205.3 521.2,1211.8 521.5,1213.1 521.8,1202.1 522.1,1223.1 522.4,1213.7 522.7,1218.6 523.0,1213.9 523.3,1221.0 523.6,1217.3 523.9,1213.6 524.2,1212.1 524.5,1227.8 524.8,1223.5 525.1,1216.6 525.4,1233.5 525.7,1231.8 526.0,1231.6 526.3,1231.8 526.6,1222.1 526.9,1237.4 527.2,1232.5 527.5,1223.5 527.8,1214.6 528.1,1213.7 528.4,1218.4 528.7,1220.5 529.0,1224.9 529.3,1221.8 529.6,1224.9 529.9,1215.2 530.2,1222.5 530.5,1231.1 530.8,1234.2 531.1,1238.5 531.4,1243.7 531.7,1248.8 532.0,1252.7 532.3,1254.3 532.6,1253.0 532.9,1249.3 533.2,1244.4 533.5,1239.4 533.8,1235.3 534.1,1232.4 534.4,1208.7 534.7,1216.3 535.0,1235.2 535.3,1235.1 535.6,1235.4 535.9,1217.2 536.2,1221.8 536.5,1218.8 536.8,1217.1 537.1,1219.0 537.4,1224.1 537.7,1225.3 538.0,1217.6 538.3,1228.9 538.6,1227.7 538.9,1231.9 539.2,1231.7 539.5,1229.2 539.8,1215.0 540.1,1224.0 540.4,1229.8 540.7,1232.4 541.0,1221.9 541.3,1227.1 541.6,1219.7 541.9,1221.9 542.2,1214.0 542.5,1230.1 542.8,1230.9 543.1,1229.4 543.4,1236.4 543.7,1221.2 544.0,1237.8 544.3,1233.3 544.6,1231.0 544.9,1233.2 545.2,1234.9 545.5,1216.7 545.8,1236.5 546.1,1236.0 546.4,1234.3 546.7,1241.6 547.0,1237.9 547.3,1233.7 547.6,1224.6 547.9,1225.9 548.2,1220.5 548.5,1215.2 548.8,1204.3 549.1,1206.9 549.4,1223.6 549.7,1228.3 550.0,1229.5 550.3,1219.4 550.6,1211.5 550.9,1215.2 551.2,1224.5 551.5,1212.8 551.8,1217.6 552.1,1225.4 552.4,1233.4 552.7,1225.1 553.0,1229.3 553.3,1212.8 553.6,1225.2 553.9,1238.3 554.2,1246.8 554.5,1233.7 554.8,1233.2 555.1,1230.6 555.4,1221.9 555.7,1225.7 556.0,1221.4 556.3,1218.3 556.6,1213.8 556.9,1208.4 557.2,1203.1 557.5,1199.1 557.8,1197.6 558.1,1198.9 558.4,1202.8 558.7,1207.9 559.0,1207.9 559.3,1204.4 559.6,1205.0 559.9,1206.9 560.2,1225.0 560.5,1222.4 560.8,1219.7 561.1,1220.1 561.4,1219.7 561.7,1219.7 562.0,1226.9 562.3,1234.5 562.6,1218.6 562.9,1212.5 563.2,1220.9 563.5,1215.4 563.8,1223.3 564.1,1221.2 564.4,1235.5 564.7,1217.5 565.0,1204.7 565.3,1210.1 565.6,1208.8 565.9,1219.5 566.2,1221.6 566.5,1220.7 566.8,1220.9 567.1,1207.2 567.4,1202.7 567.7,1224.1 568.0,1215.1 568.3,1211.7 568.6,1224.1 568.9,1220.5 569.2,1226.2 569.5,1219.4 569.8,1219.5 570.1,1221.3 570.4,1206.0 570.7,1215.9 571.0,1220.8 571.3,1226.1 571.6,1225.1 571.9,1228.6 572.2,1229.1 572.5,1226.5 572.8,1219.2 573.1,1208.5 573.4,1210.9 573.7,1219.3 574.0,1214.6 574.3,1217.2 574.6,1230.1 574.9,1231.4 575.2,1226.4 575.5,1229.0 575.8,1218.9 576.1,1234.4 576.4,1217.8 576.7,1213.0 577.0,1216.0 577.3,1224.8 577.6,1228.7 577.9,1221.4 578.2,1222.4 578.5,1229.8 578.8,1224.6 579.1,1223.5 579.4,1216.1 579.7,1217.4 580.0,1211.9 580.3,1229.9 580.6,1229.2 580.9,1226.6 581.2,1227.9 581.5,1229.1 581.8,1214.2 582.1,1207.9 582.4,1230.3 582.7,1220.2 583.0,1221.1 583.3,1218.3 583.6,1219.2 583.9,1211.9 584.2,1217.2 584.5,1220.5 584.8,1231.7 585.1,1221.4 585.4,1230.4 585.7,1227.5 586.0,1215.9 586.3,1216.0 586.6,1204.6 586.9,1222.9 587.2,1226.3 587.5,1227.2 587.8,1212.3 588.1,1213.6 588.4,1218.2 588.7,1233.0 589.0,1237.0 589.3,1227.0 589.6,1224.6 589.9,1225.3 590.2,1225.0 590.5,1219.2 590.8,1225.4 591.1,1226.7 591.4,1225.0 591.7,1224.8 592.0,1232.8 592.3,1232.5 592.6,1235.1 592.9,1232.0 593.2,1224.5 593.5,1233.6 593.8,1238.4 594.1,1227.1 594.4,1237.6 594.7,1243.3 595.0,1231.8 595.3,1231.8 595.6,1225.1 595.9,1228.9 596.2,1232.8 596.5,1231.6 596.8,1231.0 597.1,1239.9 597.4,1237.1 597.7,1251.0 598.0,1255.7 598.3,1231.0 598.6,1229.3 598.9,1234.8 599.2,1224.3 599.5,1230.3 599.8,1233.0 600.1,1232.4 600.4,1235.7 600.7,1235.6 601.0,1240.9 601.3,1244.1 601.6,1243.0 601.9,1246.2 602.2,1227.1 602.5,1231.1 602.8,1228.4 603.1,1220.9 603.4,1239.9 603.7,1227.3 604.0,1234.3 604.3,1233.2 604.6,1238.1 604.9,1239.4 605.2,1231.8 605.5,1216.7 605.8,1229.3 606.1,1223.4 606.4,1216.3 606.7,1209.3 607.0,1204.1 607.3,1202.2 607.6,1204.3 607.9,1209.8 608.2,1217.1 608.5,1221.6 608.8,1226.4 609.1,1234.9 609.4,1237.3 609.7,1239.9 610.0,1237.1 610.3,1250.9 610.6,1243.8 610.9,1245.9 611.2,1240.3 611.5,1239.5 611.8,1229.1 612.1,1227.4 612.4,1245.3 612.7,1236.5 613.0,1250.6 613.3,1251.0 613.6,1244.0 613.9,1235.1 614.2,1240.5 614.5,1231.6 614.8,1218.4 615.1,1227.0 615.4,1235.7 615.7,1230.9 616.0,1232.3 616.3,1236.3 616.6,1246.9 616.9,1242.7 617.2,1228.9 617.5,1236.2 617.8,1230.0 618.1,1234.4 618.4,1231.2 618.7,1238.2 619.0,1237.7 619.3,1219.8 619.6,1234.3 619.9,1235.2 620.2,1230.0 620.5,1235.5 620.8,1236.4 621.1,1218.9 621.4,1229.9 621.7,1241.7 622.0,1247.9 622.3,1238.2 622.6,1241.5 622.9,1236.0 623.2,1239.0 623.5,1229.9 623.8,1214.1 624.1,1229.2 624.4,1229.8 624.7,1227.8 625.0,1228.5 625.3,1238.0 625.6,1235.3 625.9,1225.7 626.2,1239.5 626.5,1225.5 626.8,1221.1 627.1,1215.0 627.4,1207.6 627.7,1200.2 628.0,1194.7 628.3,1192.5 628.6,1194.3 628.9,1199.5 629.2,1206.5 629.5,1213.5 629.8,1209.2 630.1,1206.1 630.4,1215.8 630.7,1229.4 631.0,1233.7 631.4,1229.5 631.7,1227.5 632.0,1227.2 632.4,1218.7 632.7,1224.5 633.1,1224.5 633.5,1214.7 633.9,1226.1 634.3,1220.6 634.7,1221.9 635.1,1234.0 635.5,1222.0 636.0,1224.6 636.4,1218.6 636.9,1211.2 637.3,1221.7 637.8,1217.6 638.3,1213.8 638.8,1197.9 639.4,1192.8 639.9,1203.4 640.4,1212.1 641.0,1208.2 641.6,1217.9 642.2,1216.2 642.8,1214.8 643.4,1201.6 644.0,1202.4 644.7,1208.2 645.3,1207.7 646.0,1217.2 646.7,1217.8 647.4,1215.3 648.2,1217.4 648.9,1206.7 649.7,1207.6 650.5,1219.3 651.3,1216.6 652.1,1218.0 652.9,1219.0 653.7,1219.6 654.5,1216.6 655.3,1219.2 656.1,1216.0 656.9,1216.1 657.7,1210.2 658.5,1214.2 659.3,1207.8 660.2,1212.6 661.0,1212.6 661.8,1209.9 662.6,1202.4 663.4,1207.0 664.2,1210.2 665.0,1202.4 665.9,1198.5 666.7,1209.7 667.5,1202.4 668.3,1198.6 669.1,1193.6 670.0,1190.9 670.8,1192.1 671.6,1195.3 672.4,1193.1 673.3,1188.3 674.1,1185.4 674.9,1183.5 675.8,1192.8 676.6,1183.2 677.4,1189.1 678.2,1184.9 679.1,1178.2 679.9,1177.4 680.7,1181.0 681.6,1178.9 682.4,1184.6 683.3,1177.0 684.1,1181.5 684.9,1172.5 685.8,1163.2 686.6,1168.0 687.5,1170.7 688.3,1169.9 689.2,1161.9 690.0,1162.2 690.8,1158.1 691.7,1162.0 692.5,1174.3 693.4,1171.0 694.2,1159.5 695.1,1148.4 695.9,1146.3 696.8,1153.8 697.7,1157.9 698.5,1146.7 699.4,1153.6 700.2,1155.0 701.1,1164.8 701.9,1164.2 702.8,1169.8 703.7,1159.1 704.5,1149.9 705.4,1163.2 706.3,1162.7 707.1,1166.7 708.0,1148.2 708.9,1159.0 709.7,1159.8 710.6,1158.0 711.5,1166.3 712.3,1167.6 713.2,1156.6 714.1,1157.9 715.0,1154.5 715.8,1158.7 716.7,1163.0 717.6,1151.7 718.5,1156.4 719.4,1150.2 720.2,1153.5 721.1,1139.0 722.0,1146.2 722.9,1147.8 723.8,1146.0 724.7,1139.8 725.6,1135.1 726.4,1132.8 727.3,1125.6 728.2,1119.9 729.1,1114.2 730.0,1117.8 730.9,1098.8 731.8,1114.7 732.7,1109.7 733.6,1094.3 734.5,1089.0 735.4,1088.2 736.3,1076.3 737.2,1065.3 738.2,1058.9 739.2,1058.5 740.2,1055.0 741.3,1046.2 742.4,1039.0 743.5,1027.6 744.7,1024.7 745.8,1015.1 747.0,1010.0 748.2,1003.7 749.4,992.5 750.6,990.2 751.8,983.4 753.0,979.5 754.2,982.5 755.4,981.6 756.6,980.5 757.8,973.3 759.0,965.6 760.2,967.7 761.4,969.5 762.6,964.7 763.8,970.7 765.0,966.2 766.2,958.3 767.4,958.6 768.6,954.8 769.8,954.8 771.0,958.7 772.2,959.4 773.4,961.9 774.6,961.1 775.8,964.5 777.0,957.7 778.2,963.7 779.4,961.6 780.6,952.8 781.8,959.1 783.0,963.8 784.2,965.6 785.4,963.0 786.6,957.3 787.8,963.8 789.0,966.6 790.2,959.2 791.4,952.6 792.6,951.5 793.8,947.0 795.0,931.5 796.2,927.6 797.4,910.2 798.6,908.4 799.8,898.8 801.0,888.6 802.2,874.4 803.4,864.5 804.6,854.3 805.8,837.6 807.0,828.5 808.0,819.9" fill="none" stroke="#000" stroke-width="3.5" stroke-linejoin="round" stroke-linecap="round"/>
<path d="M630.0,1215.4 631.3,1232.1 632.6,1219.6 633.9,1237.6 635.2,1204.9 636.5,1228.8 637.8,1205.7 639.1,1241.8 640.4,1201.2 641.7,1227.8 643.0,1200.7 644.3,1240.6 645.6,1203.5 646.0,1170.0 646.9,1234.6 648.2,1198.5 649.5,1230.6 650.8,1198.7 652.1,1239.2 653.4,1202.7 654.7,1229.6 656.0,1191.2 657.3,1236.0 658.6,1199.1 659.9,1241.2 661.2,1194.3 661.7,1250.0 662.5,1227.4 663.8,1184.5 665.1,1218.6 666.4,1173.4 667.7,1218.9 669.0,1188.5 670.3,1216.1 671.6,1176.7 672.9,1207.9 674.2,1165.0 675.5,1207.6 676.8,1151.0 678.1,1194.0 679.4,1144.7 680.7,1199.4 682.0,1153.9 683.3,1201.4 684.6,1154.9 685.6,1123.0 685.9,1184.6 687.2,1138.6 688.5,1185.9 689.8,1151.0 691.1,1180.7 692.4,1145.8 693.7,1171.0 695.0,1146.5 696.3,1166.7 697.6,1139.6 698.9,1185.7 700.0,1125.0 700.2,1144.6 701.5,1176.7 702.8,1144.6 704.1,1170.8 705.4,1151.7 706.7,1187.0 708.0,1145.4 709.3,1171.0 710.5,1118.0 710.6,1142.4 711.9,1185.5 713.2,1144.7 714.5,1192.2 715.8,1139.9 717.1,1175.1 718.4,1151.2 719.4,1199.0 719.7,1183.6 721.0,1143.7 722.3,1174.2 723.6,1133.2 724.9,1152.2 726.2,1120.3 727.5,1161.5 728.8,1111.4 730.1,1137.1 731.4,1089.9 732.7,1119.9 734.0,1062.4" fill="none" stroke="#000" stroke-width="3.5" stroke-linejoin="round" stroke-linecap="round"/>
<path d="M735.0,1044.7 736.4,1077.9 737.7,1047.2 738.0,948.0 739.1,1063.5 740.4,988.9 741.0,942.0 741.8,1048.8 743.1,1016.3 744.5,1034.6 745.8,976.5 747.0,1038.0 747.2,1032.9 748.5,959.3 749.9,1013.0 751.2,964.9 752.6,1010.5 753.9,940.2 755.3,1002.5 756.0,902.0 756.6,927.0 758.0,988.0 758.0,910.0 759.3,960.2 760.7,981.7 762.0,935.9 762.6,1006.0 763.4,986.6 764.7,937.3 766.1,985.9 767.4,943.7 768.8,984.7 770.0,937.0 770.1,951.9 771.5,973.9 772.8,942.6 774.2,981.8 775.5,933.1 776.9,974.8 778.2,943.2 779.6,979.7 780.9,934.3 782.0,890.0 782.3,981.9 783.6,934.6 785.0,984.5 786.3,943.5 787.7,983.8 789.0,927.5 790.4,988.0 791.7,944.6 793.1,979.5 794.0,905.0 794.4,925.3 795.8,1011.3 797.1,918.2 798.5,960.2 799.5,1035.0 799.8,888.8 801.2,969.2 802.5,858.8 803.0,1000.0 803.9,902.6 804.0,790.0 805.0,1040.0 805.2,794.2 806.0,765.0 806.6,904.0 807.0,1000.0 807.9,791.2 808.0,763.0" fill="none" stroke="#000" stroke-width="3.5" stroke-linejoin="round" stroke-linecap="round"/>
<path d="M152.7,1269.1 C152.8,1262.9 153.0,1238.6 153.6,1231.8 C154.2,1225.0 155.2,1227.9 156.4,1228.2 C157.6,1228.5 157.7,1231.3 160.9,1233.6 C164.1,1235.9 170.7,1241.3 175.5,1241.8 C180.3,1242.3 185.5,1237.9 190.0,1236.4 C194.5,1234.9 197.8,1232.2 202.7,1232.7 C207.5,1233.2 214.8,1238.0 219.1,1239.1 C223.3,1240.2 221.5,1240.6 228.2,1239.1 C234.9,1237.6 249.4,1230.5 259.1,1230.0 C268.8,1229.5 276.4,1236.7 286.4,1236.4 C296.4,1236.1 308.5,1228.2 319.1,1228.2 C329.7,1228.2 340.3,1235.4 350.0,1236.4 C359.7,1237.5 367.3,1236.8 377.3,1234.5 C387.3,1232.2 400.9,1223.5 410.0,1222.7 C419.1,1222.0 425.1,1228.8 431.8,1230.0 C438.5,1231.2 445.0,1230.5 450.0,1230.0 C455.0,1229.5 458.6,1227.3 461.8,1227.3 C465.0,1227.3 466.0,1232.4 469.1,1230.2 C472.2,1228.0 477.6,1217.5 480.7,1214.2 C483.8,1210.9 484.9,1212.1 488.0,1210.5 C491.1,1208.9 496.0,1203.9 499.6,1204.7 C503.2,1205.5 506.4,1212.6 509.8,1215.6 C513.2,1218.6 514.7,1220.4 520.0,1222.9 C525.3,1225.5 536.2,1230.4 541.8,1230.9 C547.4,1231.4 548.2,1227.2 553.5,1225.8 C558.8,1224.3 567.3,1221.3 573.8,1222.2 C580.3,1223.1 586.4,1227.9 592.7,1230.9 C599.0,1233.9 606.5,1240.2 611.6,1240.4 C616.7,1240.7 619.9,1234.7 623.3,1232.4 C626.7,1230.1 628.8,1229.9 631.9,1226.6 C635.0,1223.3 638.2,1214.0 641.9,1212.7 C645.5,1211.4 649.5,1221.0 653.8,1218.7 C658.1,1216.4 663.4,1205.4 667.7,1198.8 C672.0,1192.2 676.3,1185.0 679.6,1178.9 C682.9,1172.8 684.3,1166.5 687.6,1162.0 C690.9,1157.5 695.9,1151.9 699.5,1152.1 C703.1,1152.3 706.5,1161.8 709.5,1163.0 C712.5,1164.2 714.8,1163.6 717.4,1159.0 C720.0,1154.4 722.4,1147.8 725.4,1135.2 C728.4,1122.6 732.3,1099.4 735.3,1083.5 C738.3,1067.6 741.4,1051.0 743.3,1039.8 C745.2,1028.5 745.0,1024.9 746.5,1016.0 C748.0,1007.1 749.8,993.1 752.1,986.4 C754.5,979.7 757.8,980.6 760.6,975.8 C763.4,971.0 766.3,959.7 769.1,957.7 C771.9,955.7 775.3,964.4 777.6,964.0 C779.9,963.6 780.8,955.9 782.9,955.5 C785.0,955.1 788.1,967.8 790.4,961.9 C792.7,956.0 794.7,936.2 796.8,920.4 C798.9,904.6 801.1,888.8 803.2,867.1 C805.3,845.5 808.5,803.3 809.6,790.5" fill="none" stroke="#f00" stroke-width="6" stroke-linejoin="round" stroke-linecap="butt"/>
<g font-family='"Liberation Sans", Arial, sans-serif' font-size="44.8" fill="#000">
<text x="151.9" y="1356.8" text-anchor="middle">0</text>
<text x="306.9" y="1356.8" text-anchor="middle">5</text>
<text x="461.9" y="1356.8" text-anchor="middle">10</text>
<text x="616.9" y="1356.8" text-anchor="middle">15</text>
<text x="771.9" y="1356.8" text-anchor="middle">20</text>
<text x="99.9" y="1283.4" text-anchor="end">0</text>
<text x="99.9" y="1153.7" text-anchor="end">10</text>
<text x="99.9" y="1024.0" text-anchor="end">20</text>
<text x="99.9" y="894.3" text-anchor="end">30</text>
<text x="99.9" y="764.6" text-anchor="end">40</text>
</g>
<g stroke="#000" stroke-width="5.8" stroke-linecap="round" stroke-linejoin="round" fill="none">
<rect x="964.9" y="752.2" width="658.0" height="518.8"/>
<line x1="964.9" y1="1271.0" x2="964.9" y2="1301.0"/>
<line x1="1088.7" y1="1271.0" x2="1088.7" y2="1301.0"/>
<line x1="1212.5" y1="1271.0" x2="1212.5" y2="1301.0"/>
<line x1="1336.3" y1="1271.0" x2="1336.3" y2="1301.0"/>
<line x1="1460.1" y1="1271.0" x2="1460.1" y2="1301.0"/>
<line x1="1583.9" y1="1271.0" x2="1583.9" y2="1301.0"/>
<line x1="1026.8" y1="1271.0" x2="1026.8" y2="1286.0"/>
<line x1="1150.6" y1="1271.0" x2="1150.6" y2="1286.0"/>
<line x1="1274.4" y1="1271.0" x2="1274.4" y2="1286.0"/>
<line x1="1398.2" y1="1271.0" x2="1398.2" y2="1286.0"/>
<line x1="1522.0" y1="1271.0" x2="1522.0" y2="1286.0"/>
<line x1="964.9" y1="1271.0" x2="934.9" y2="1271.0"/>
<line x1="964.9" y1="1141.3" x2="934.9" y2="1141.3"/>
<line x1="964.9" y1="1011.6" x2="934.9" y2="1011.6"/>
<line x1="964.9" y1="881.9" x2="934.9" y2="881.9"/>
<line x1="964.9" y1="752.2" x2="934.9" y2="752.2"/>
<line x1="964.9" y1="1206.2" x2="949.9" y2="1206.2"/>
<line x1="964.9" y1="1076.5" x2="949.9" y2="1076.5"/>
<line x1="964.9" y1="946.8" x2="949.9" y2="946.8"/>
<line x1="964.9" y1="817.1" x2="949.9" y2="817.1"/>
</g>
<path d="M965.5,1257.0 965.8,1257.0 966.1,1243.0 966.4,1218.3 966.7,1221.2 967.0,1217.8 967.3,1238.6 967.6,1227.8 967.9,1225.7 968.2,1228.4 968.5,1235.9 968.8,1222.5 969.1,1219.3 969.4,1230.3 969.7,1227.5 970.0,1226.0 970.3,1226.1 970.6,1242.8 970.9,1237.3 971.2,1216.6 971.5,1220.5 971.8,1227.8 972.1,1236.4 972.4,1237.4 972.7,1220.7 973.0,1227.6 973.3,1239.3 973.6,1227.7 973.9,1216.7 974.2,1224.5 974.5,1202.4 974.8,1192.3 975.1,1202.7 975.4,1232.9 975.7,1231.5 976.0,1238.2 976.3,1237.2 976.6,1232.4 976.9,1238.0 977.2,1244.9 977.5,1251.8 977.8,1256.9 978.1,1257.0 978.4,1256.6 978.7,1251.3 979.0,1244.2 979.3,1237.0 979.6,1231.1 979.9,1226.9 980.2,1214.1 980.5,1221.0 980.8,1225.1 981.1,1227.6 981.4,1206.1 981.7,1217.6 982.0,1225.6 982.3,1212.8 982.6,1211.8 982.9,1216.8 983.2,1212.0 983.5,1230.6 983.8,1232.5 984.1,1226.9 984.4,1202.8 984.7,1205.7 985.0,1208.8 985.3,1209.3 985.6,1217.2 985.9,1216.8 986.2,1223.8 986.5,1229.6 986.8,1239.8 987.1,1236.0 987.4,1219.5 987.7,1229.4 988.0,1218.6 988.3,1217.5 988.6,1212.8 988.9,1190.5 989.2,1207.0 989.5,1209.9 989.8,1219.9 990.1,1215.9 990.4,1220.3 990.7,1225.9 991.0,1231.4 991.3,1235.4 991.6,1236.6 991.9,1234.4 992.2,1229.5 992.5,1223.0 992.8,1216.6 993.1,1211.2 993.4,1207.4 993.7,1207.4 994.0,1216.0 994.3,1195.8 994.6,1198.6 994.9,1211.5 995.2,1212.3 995.5,1220.2 995.8,1223.2 996.1,1197.7 996.4,1193.9 996.7,1188.5 997.0,1181.9 997.3,1175.4 997.6,1170.5 997.9,1168.6 998.2,1170.4 998.5,1175.3 998.8,1181.7 999.1,1188.2 999.4,1193.4 999.7,1197.0 1000.0,1203.1 1000.3,1203.0 1000.6,1201.8 1000.9,1221.7 1001.2,1213.1 1001.5,1205.5 1001.8,1181.4 1002.1,1169.7 1002.4,1178.3 1002.7,1195.5 1003.0,1189.7 1003.3,1194.6 1003.6,1201.3 1003.9,1213.4 1004.2,1211.0 1004.5,1198.5 1004.8,1195.0 1005.1,1208.1 1005.4,1203.3 1005.7,1203.9 1006.0,1210.8 1006.3,1219.2 1006.6,1227.6 1006.9,1233.8 1007.2,1236.0 1007.5,1233.3 1007.8,1226.6 1008.1,1217.7 1008.4,1208.8 1008.7,1201.5 1009.0,1196.4 1009.3,1187.2 1009.6,1184.7 1009.9,1179.6 1010.2,1176.6 1010.5,1172.3 1010.8,1169.1 1011.1,1167.9 1011.4,1169.3 1011.7,1165.3 1012.0,1177.2 1012.3,1181.7 1012.6,1185.4 1012.9,1188.0 1013.2,1182.4 1013.5,1187.3 1013.8,1188.3 1014.1,1191.1 1014.4,1169.9 1014.7,1163.8 1015.0,1195.1 1015.3,1190.8 1015.6,1168.7 1015.9,1177.4 1016.2,1180.4 1016.5,1165.5 1016.8,1187.2 1017.1,1205.7 1017.4,1207.6 1017.7,1184.3 1018.0,1193.5 1018.3,1190.3 1018.6,1180.9 1018.9,1169.3 1019.2,1178.8 1019.5,1187.0 1019.8,1183.7 1020.1,1163.0 1020.4,1168.5 1020.7,1170.2 1021.0,1177.9 1021.3,1177.3 1021.6,1173.5 1021.9,1183.6 1022.2,1181.3 1022.5,1185.9 1022.8,1172.1 1023.1,1193.3 1023.4,1195.3 1023.7,1195.4 1024.0,1192.8 1024.3,1184.8 1024.6,1184.3 1024.9,1192.3 1025.2,1183.7 1025.5,1178.9 1025.8,1173.9 1026.1,1166.7 1026.4,1158.0 1026.7,1149.3 1027.0,1143.0 1027.3,1140.8 1027.6,1143.6 1027.9,1150.6 1028.2,1159.9 1028.5,1169.3 1028.8,1177.1 1029.1,1169.6 1029.4,1182.4 1029.7,1176.2 1030.0,1173.3 1030.3,1174.2 1030.6,1187.9 1030.9,1178.5 1031.2,1202.0 1031.5,1188.1 1031.8,1185.2 1032.1,1180.6 1032.4,1175.7 1032.7,1170.5 1033.0,1166.7 1033.3,1165.5 1033.6,1167.5 1033.9,1172.1 1034.2,1178.1 1034.5,1184.2 1034.8,1189.4 1035.1,1189.8 1035.4,1210.6 1035.7,1205.3 1036.0,1206.8 1036.3,1204.9 1036.6,1210.5 1036.9,1218.1 1037.2,1227.2 1037.5,1236.3 1037.8,1243.2 1038.1,1246.1 1038.4,1244.3 1038.7,1238.5 1039.0,1230.5 1039.3,1222.4 1039.6,1215.8 1039.9,1212.3 1040.2,1217.5 1040.5,1211.4 1040.8,1186.8 1041.1,1200.6 1041.4,1205.8 1041.7,1213.3 1042.0,1209.6 1042.3,1201.3 1042.6,1207.0 1042.9,1211.4 1043.2,1189.4 1043.5,1178.1 1043.8,1177.0 1044.1,1199.0 1044.4,1206.8 1044.7,1211.9 1045.0,1207.9 1045.3,1210.5 1045.6,1205.0 1045.9,1212.0 1046.2,1212.0 1046.5,1220.7 1046.8,1225.0 1047.1,1230.8 1047.4,1237.7 1047.7,1244.6 1048.0,1249.7 1048.3,1251.8 1048.6,1250.1 1048.9,1245.3 1049.2,1238.8 1049.5,1232.2 1049.8,1226.7 1050.1,1222.9 1050.4,1211.0 1050.7,1220.4 1051.0,1222.4 1051.3,1238.1 1051.6,1227.6 1051.9,1229.6 1052.2,1211.2 1052.5,1219.5 1052.8,1230.2 1053.1,1233.0 1053.4,1228.8 1053.7,1223.3 1054.0,1230.1 1054.3,1233.5 1054.6,1239.1 1054.9,1243.2 1055.2,1244.4 1055.5,1242.3 1055.8,1237.3 1056.1,1235.2 1056.4,1224.3 1056.7,1218.9 1057.0,1214.9 1057.3,1212.4 1057.6,1220.1 1057.9,1217.8 1058.2,1219.4 1058.5,1206.7 1058.8,1191.3 1059.1,1183.8 1059.4,1199.9 1059.7,1197.1 1060.0,1192.4 1060.3,1188.7 1060.6,1181.2 1060.9,1183.5 1061.2,1189.4 1061.5,1206.3 1061.8,1200.9 1062.1,1202.8 1062.4,1200.4 1062.7,1201.4 1063.0,1204.1 1063.3,1213.7 1063.6,1206.4 1063.9,1202.9 1064.2,1200.9 1064.5,1187.1 1064.8,1195.2 1065.1,1210.4 1065.4,1204.8 1065.7,1198.3 1066.0,1192.6 1066.3,1205.6 1066.6,1200.6 1066.9,1217.8 1067.2,1204.6 1067.5,1207.1 1067.8,1191.9 1068.1,1192.2 1068.4,1188.0 1068.7,1199.5 1069.0,1202.3 1069.3,1195.0 1069.6,1212.0 1069.9,1209.3 1070.2,1188.8 1070.5,1196.5 1070.8,1180.5 1071.1,1177.4 1071.4,1188.2 1071.7,1188.2 1072.0,1184.8 1072.3,1189.0 1072.6,1167.6 1072.9,1194.3 1073.2,1181.2 1073.5,1185.0 1073.8,1177.6 1074.1,1174.9 1074.4,1176.5 1074.7,1184.3 1075.0,1182.1 1075.3,1166.0 1075.6,1178.4 1075.9,1185.7 1076.2,1189.5 1076.5,1185.0 1076.8,1197.2 1077.1,1192.0 1077.4,1195.1 1077.7,1189.7 1078.0,1205.2 1078.3,1211.3 1078.6,1202.4 1078.9,1190.7 1079.2,1182.1 1079.5,1185.2 1079.8,1202.4 1080.1,1212.1 1080.4,1202.8 1080.7,1196.3 1081.0,1200.6 1081.3,1206.8 1081.6,1212.9 1081.9,1217.4 1082.2,1219.0 1082.5,1217.2 1082.8,1212.5 1083.1,1206.1 1083.4,1199.8 1083.7,1196.8 1084.0,1190.7 1084.3,1188.4 1084.6,1193.0 1084.9,1186.6 1085.2,1193.3 1085.5,1188.6 1085.8,1180.5 1086.1,1186.2 1086.4,1182.9 1086.7,1175.8 1087.0,1176.0 1087.3,1161.0 1087.6,1176.1 1087.9,1188.0 1088.2,1180.8 1088.5,1178.5 1088.8,1172.3 1089.1,1179.9 1089.4,1179.3 1089.7,1176.0 1090.0,1171.9 1090.3,1168.0 1090.6,1164.9 1090.9,1163.8 1091.2,1164.7 1091.5,1167.5 1091.8,1162.0 1092.1,1168.4 1092.4,1172.5 1092.7,1180.5 1093.0,1191.3 1093.3,1204.3 1093.6,1189.3 1093.9,1182.9 1094.2,1178.5 1094.5,1162.3 1094.8,1168.8 1095.1,1171.5 1095.4,1165.6 1095.7,1182.9 1096.0,1177.6 1096.3,1175.3 1096.6,1169.2 1096.9,1176.8 1097.2,1156.5 1097.5,1170.1 1097.8,1173.4 1098.1,1176.9 1098.4,1179.8 1098.7,1197.8 1099.0,1204.7 1099.3,1177.7 1099.6,1186.8 1099.9,1168.5 1100.2,1181.1 1100.5,1178.1 1100.8,1178.4 1101.1,1199.2 1101.4,1191.7 1101.7,1186.9 1102.0,1186.7 1102.3,1178.2 1102.6,1174.6 1102.9,1176.6 1103.2,1173.4 1103.5,1162.6 1103.8,1176.2 1104.1,1186.1 1104.4,1191.7 1104.7,1194.6 1105.0,1169.7 1105.3,1177.0 1105.6,1173.2 1105.9,1173.2 1106.2,1176.3 1106.5,1174.7 1106.8,1171.5 1107.1,1178.4 1107.4,1179.6 1107.7,1169.7 1108.0,1193.5 1108.3,1192.7 1108.6,1190.1 1108.9,1179.4 1109.2,1197.2 1109.5,1189.4 1109.8,1188.2 1110.1,1189.6 1110.4,1195.8 1110.7,1181.9 1111.0,1194.8 1111.3,1190.8 1111.6,1194.7 1111.9,1213.1 1112.2,1211.9 1112.5,1202.9 1112.8,1203.5 1113.1,1198.3 1113.4,1190.7 1113.7,1190.0 1114.0,1191.5 1114.3,1192.3 1114.6,1201.0 1114.9,1176.3 1115.2,1192.1 1115.5,1189.1 1115.8,1196.9 1116.1,1193.9 1116.4,1202.8 1116.7,1198.4 1117.0,1199.0 1117.3,1191.0 1117.6,1189.9 1117.9,1194.8 1118.2,1203.5 1118.5,1198.6 1118.8,1200.6 1119.1,1174.5 1119.4,1189.8 1119.7,1203.4 1120.0,1189.7 1120.3,1182.3 1120.6,1187.1 1120.9,1189.5 1121.2,1188.5 1121.5,1174.4 1121.8,1189.5 1122.1,1191.9 1122.4,1193.5 1122.7,1205.7 1123.0,1186.1 1123.3,1187.3 1123.6,1183.1 1123.9,1177.1 1124.2,1187.2 1124.5,1196.6 1124.8,1193.9 1125.1,1172.0 1125.4,1182.0 1125.7,1193.9 1126.0,1199.2 1126.3,1200.1 1126.6,1191.6 1126.9,1196.3 1127.2,1196.3 1127.5,1191.0 1127.8,1199.2 1128.1,1203.9 1128.4,1185.1 1128.7,1191.4 1129.0,1188.6 1129.3,1182.3 1129.6,1185.1 1129.9,1192.0 1130.2,1193.5 1130.5,1190.8 1130.8,1200.7 1131.1,1188.3 1131.4,1188.2 1131.7,1186.4 1132.0,1185.9 1132.3,1184.6 1132.6,1183.2 1132.9,1199.6 1133.2,1202.5 1133.5,1193.9 1133.8,1173.1 1134.1,1175.4 1134.4,1186.2 1134.7,1184.8 1135.0,1182.8 1135.3,1189.8 1135.6,1194.5 1135.9,1202.7 1136.2,1194.5 1136.5,1181.0 1136.8,1178.0 1137.1,1168.1 1137.4,1175.8 1137.7,1173.1 1138.0,1183.9 1138.3,1184.7 1138.6,1178.2 1138.9,1189.2 1139.2,1179.8 1139.5,1183.0 1139.8,1196.2 1140.1,1189.3 1140.4,1194.9 1140.7,1199.0 1141.0,1199.8 1141.3,1200.3 1141.6,1208.3 1141.9,1198.5 1142.2,1193.0 1142.5,1198.3 1142.8,1203.7 1143.1,1193.4 1143.4,1193.5 1143.7,1188.6 1144.0,1179.7 1144.3,1193.4 1144.6,1197.0 1144.9,1202.0 1145.2,1208.0 1145.5,1214.0 1145.8,1218.5 1146.1,1220.3 1146.4,1218.8 1146.7,1214.6 1147.0,1208.9 1147.3,1203.2 1147.6,1198.5 1147.9,1195.3 1148.2,1184.9 1148.5,1178.9 1148.8,1177.3 1149.1,1167.8 1149.4,1166.0 1149.7,1178.7 1150.0,1187.2 1150.3,1188.4 1150.6,1189.8 1150.9,1182.8 1151.2,1191.0 1151.5,1191.9 1151.8,1190.1 1152.1,1190.7 1152.4,1171.1 1152.7,1195.6 1153.0,1193.2 1153.3,1206.3 1153.6,1200.8 1153.9,1194.7 1154.2,1206.7 1154.5,1218.2 1154.8,1199.1 1155.1,1207.0 1155.4,1192.5 1155.7,1188.4 1156.0,1177.9 1156.3,1183.3 1156.6,1181.7 1156.9,1184.9 1157.2,1190.3 1157.5,1197.0 1157.8,1200.4 1158.1,1205.2 1158.4,1211.1 1158.7,1217.0 1159.0,1221.3 1159.3,1222.8 1159.6,1220.9 1159.9,1216.1 1160.2,1209.9 1160.5,1203.6 1160.8,1198.3 1161.1,1194.5 1161.4,1183.3 1161.7,1164.7 1162.0,1184.4 1162.3,1179.6 1162.6,1182.3 1162.9,1182.5 1163.2,1194.7 1163.5,1190.6 1163.8,1190.4 1164.1,1181.9 1164.4,1185.3 1164.7,1167.3 1165.0,1182.9 1165.3,1180.9 1165.6,1190.0 1165.9,1181.9 1166.2,1198.4 1166.5,1194.9 1166.8,1189.0 1167.1,1168.0 1167.4,1181.9 1167.7,1178.3 1168.0,1174.0 1168.3,1169.8 1168.6,1166.6 1168.9,1165.5 1169.2,1166.8 1169.5,1170.1 1169.8,1174.4 1170.1,1178.9 1170.4,1182.6 1170.7,1183.1 1171.0,1175.6 1171.3,1184.5 1171.6,1204.5 1171.9,1201.3 1172.2,1189.9 1172.5,1179.9 1172.8,1178.2 1173.1,1189.9 1173.4,1169.6 1173.7,1184.9 1174.0,1173.3 1174.3,1173.4 1174.6,1190.3 1174.9,1188.2 1175.2,1190.9 1175.5,1185.7 1175.8,1182.6 1176.1,1182.4 1176.4,1188.3 1176.7,1201.9 1177.0,1204.3 1177.3,1201.2 1177.6,1187.3 1177.9,1193.1 1178.2,1194.4 1178.5,1194.8 1178.8,1184.7 1179.1,1198.1 1179.4,1187.9 1179.7,1209.3 1180.0,1192.6 1180.3,1173.0 1180.6,1192.6 1180.9,1193.3 1181.2,1194.3 1181.5,1191.1 1181.8,1191.6 1182.1,1193.6 1182.4,1196.3 1182.7,1202.0 1183.0,1210.3 1183.3,1195.2 1183.6,1198.8 1183.9,1192.3 1184.2,1191.7 1184.5,1193.9 1184.8,1204.8 1185.1,1210.9 1185.4,1201.0 1185.7,1208.6 1186.0,1197.9 1186.3,1184.0 1186.6,1185.4 1186.9,1194.2 1187.2,1194.3 1187.5,1194.1 1187.8,1196.6 1188.1,1207.7 1188.4,1200.8 1188.7,1207.6 1189.0,1197.8 1189.3,1197.7 1189.6,1190.7 1189.9,1193.0 1190.2,1175.6 1190.5,1184.5 1190.8,1199.8 1191.1,1218.7 1191.4,1205.7 1191.7,1222.3 1192.0,1214.3 1192.3,1219.9 1192.6,1209.9 1192.9,1192.6 1193.2,1215.6 1193.5,1205.1 1193.8,1210.3 1194.1,1196.4 1194.4,1208.9 1194.7,1223.0 1195.0,1206.0 1195.3,1203.7 1195.6,1213.6 1195.9,1215.1 1196.2,1193.7 1196.5,1218.8 1196.8,1210.4 1197.1,1209.4 1197.4,1207.9 1197.7,1215.2 1198.0,1191.7 1198.3,1192.9 1198.6,1202.1 1198.9,1221.3 1199.2,1205.2 1199.5,1205.0 1199.8,1216.3 1200.1,1206.1 1200.4,1214.2 1200.7,1201.8 1201.0,1208.0 1201.3,1203.3 1201.6,1197.9 1201.9,1214.8 1202.2,1220.3 1202.5,1208.0 1202.8,1203.1 1203.1,1198.6 1203.4,1200.7 1203.7,1197.0 1204.0,1187.5 1204.3,1208.0 1204.6,1222.6 1204.9,1233.8 1205.2,1217.3 1205.5,1218.7 1205.8,1206.2 1206.1,1205.3 1206.4,1196.4 1206.7,1200.6 1207.0,1196.6 1207.3,1191.2 1207.6,1187.8 1207.9,1188.0 1208.2,1191.4 1208.5,1195.4 1208.8,1183.4 1209.1,1182.5 1209.4,1175.6 1209.7,1185.1 1210.0,1194.4 1210.3,1212.1 1210.6,1196.3 1210.9,1198.6 1211.2,1201.9 1211.5,1211.3 1211.8,1206.2 1212.1,1189.9 1212.4,1197.0 1212.7,1202.4 1213.0,1203.7 1213.3,1199.9 1213.6,1189.2 1213.9,1180.6 1214.2,1202.5 1214.5,1198.3 1214.8,1187.9 1215.1,1198.7 1215.4,1192.4 1215.7,1204.9 1216.0,1208.6 1216.3,1205.6 1216.6,1206.3 1216.9,1202.7 1217.2,1202.5 1217.5,1204.4 1217.8,1204.2 1218.1,1183.4 1218.4,1201.4 1218.7,1184.1 1219.0,1197.8 1219.3,1188.6 1219.6,1198.6 1219.9,1195.6 1220.2,1190.4 1220.5,1184.4 1220.8,1203.1 1221.1,1181.9 1221.4,1191.0 1221.7,1179.1 1222.0,1196.0 1222.3,1187.2 1222.6,1199.3 1222.9,1221.3 1223.2,1210.3 1223.5,1209.3 1223.8,1199.0 1224.1,1179.6 1224.4,1188.0 1224.7,1189.6 1225.0,1190.3 1225.3,1203.9 1225.6,1202.6 1225.9,1199.2 1226.2,1205.2 1226.5,1202.1 1226.8,1197.1 1227.1,1196.2 1227.4,1201.0 1227.7,1205.4 1228.0,1205.7 1228.3,1188.2 1228.6,1191.8 1228.9,1195.5 1229.2,1197.4 1229.5,1219.4 1229.8,1217.6 1230.1,1209.2 1230.4,1215.6 1230.7,1205.0 1231.0,1215.6 1231.3,1206.5 1231.6,1200.4 1231.9,1214.6 1232.2,1220.3 1232.5,1210.4 1232.8,1207.1 1233.1,1188.1 1233.4,1194.0 1233.7,1193.5 1234.0,1202.7 1234.3,1186.6 1234.6,1206.5 1234.9,1205.9 1235.2,1215.2 1235.5,1199.0 1235.8,1202.2 1236.1,1213.6 1236.4,1206.2 1236.7,1205.2 1237.0,1203.7 1237.3,1202.0 1237.6,1199.5 1237.9,1223.4 1238.2,1211.6 1238.5,1212.9 1238.8,1223.9 1239.1,1211.6 1239.4,1203.1 1239.7,1215.6 1240.0,1202.5 1240.3,1193.4 1240.6,1201.6 1240.9,1207.0 1241.2,1194.8 1241.5,1224.4 1241.8,1208.9 1242.1,1213.0 1242.4,1193.8 1242.7,1207.9 1243.0,1214.8 1243.3,1194.0 1243.6,1194.5 1243.9,1192.2 1244.2,1213.6 1244.5,1220.1 1244.8,1222.4 1245.1,1222.4 1245.4,1208.2 1245.7,1197.5 1246.0,1195.2 1246.3,1207.1 1246.6,1218.6 1246.9,1192.4 1247.2,1196.8 1247.5,1207.7 1247.8,1206.7 1248.1,1205.8 1248.4,1192.9 1248.7,1187.8 1249.0,1201.9 1249.3,1210.1 1249.6,1205.1 1249.9,1203.5 1250.2,1188.6 1250.5,1188.4 1250.8,1206.3 1251.1,1219.8 1251.4,1196.7 1251.7,1193.9 1252.0,1190.1 1252.3,1185.6 1252.6,1181.0 1252.9,1177.6 1253.2,1176.1 1253.5,1177.1 1253.8,1180.0 1254.1,1184.0 1254.4,1188.1 1254.7,1191.4 1255.0,1190.3 1255.3,1198.2 1255.6,1190.2 1255.9,1192.5 1256.2,1187.9 1256.5,1206.1 1256.8,1202.1 1257.1,1195.5 1257.4,1193.2 1257.7,1196.4 1258.0,1196.3 1258.3,1195.4 1258.6,1189.9 1258.9,1185.7 1259.2,1176.0 1259.5,1190.4 1259.8,1197.7 1260.1,1181.6 1260.4,1196.5 1260.7,1192.9 1261.0,1193.6 1261.3,1201.9 1261.6,1199.8 1261.9,1175.8 1262.2,1181.3 1262.5,1185.6 1262.8,1179.3 1263.1,1178.0 1263.4,1185.4 1263.7,1184.0 1264.0,1192.6 1264.3,1194.3 1264.6,1213.4 1264.9,1206.7 1265.2,1192.9 1265.5,1195.4 1265.8,1195.3 1266.1,1196.7 1266.4,1194.3 1266.7,1190.4 1267.0,1184.7 1267.3,1177.8 1267.6,1170.9 1267.9,1165.9 1268.2,1164.3 1268.5,1166.9 1268.8,1172.9 1269.1,1180.8 1269.4,1186.1 1269.7,1195.4 1270.0,1200.3 1270.3,1222.6 1270.6,1217.1 1270.9,1221.6 1271.2,1227.7 1271.5,1233.8 1271.8,1239.0 1272.1,1241.3 1272.4,1240.1 1272.7,1236.0 1273.0,1230.3 1273.3,1227.9 1273.6,1229.9 1273.9,1219.6 1274.2,1213.4 1274.5,1205.6 1274.8,1214.0 1275.1,1211.4 1275.4,1223.3 1275.7,1210.5 1276.0,1211.2 1276.3,1215.5 1276.6,1194.4 1276.9,1209.2 1277.2,1217.2 1277.5,1221.4 1277.8,1222.5 1278.1,1217.4 1278.4,1222.8 1278.7,1220.9 1279.0,1240.9 1279.3,1212.9 1279.6,1233.1 1279.9,1236.9 1280.2,1230.0 1280.5,1242.1 1280.8,1239.0 1281.1,1212.7 1281.4,1205.4 1281.7,1222.0 1282.0,1221.3 1282.3,1224.4 1282.6,1222.3 1282.9,1229.5 1283.2,1232.9 1283.5,1228.1 1283.8,1234.4 1284.1,1229.2 1284.4,1234.3 1284.7,1237.0 1285.0,1234.0 1285.3,1227.4 1285.6,1230.5 1285.9,1237.3 1286.2,1249.0 1286.5,1257.0 1286.8,1257.0 1287.1,1256.1 1287.4,1246.0 1287.7,1249.2 1288.0,1244.5 1288.3,1232.3 1288.6,1236.1 1288.9,1238.5 1289.2,1241.9 1289.5,1246.1 1289.8,1250.3 1290.1,1253.3 1290.4,1254.4 1290.7,1253.1 1291.0,1249.7 1291.3,1245.3 1291.6,1240.8 1291.9,1241.4 1292.2,1234.3 1292.5,1223.6 1292.8,1230.2 1293.1,1229.2 1293.4,1208.7 1293.7,1218.8 1294.0,1218.9 1294.3,1205.0 1294.6,1212.7 1294.9,1235.0 1295.2,1226.5 1295.5,1226.9 1295.8,1225.8 1296.1,1228.1 1296.4,1231.5 1296.7,1233.9 1297.0,1230.2 1297.3,1232.0 1297.6,1208.5 1297.9,1235.7 1298.2,1231.5 1298.5,1221.3 1298.8,1214.1 1299.1,1205.4 1299.4,1212.1 1299.7,1224.4 1300.0,1221.6 1300.3,1221.0 1300.6,1234.9 1300.9,1233.8 1301.2,1238.2 1301.5,1245.6 1301.8,1227.8 1302.1,1217.8 1302.4,1235.6 1302.7,1230.0 1303.0,1234.2 1303.3,1216.8 1303.6,1224.6 1303.9,1221.9 1304.2,1213.4 1304.5,1235.0 1304.8,1236.4 1305.1,1228.7 1305.4,1228.2 1305.7,1224.6 1306.0,1217.1 1306.3,1227.0 1306.6,1214.2 1306.9,1226.8 1307.2,1222.9 1307.5,1221.3 1307.8,1219.8 1308.1,1213.9 1308.4,1215.9 1308.7,1236.3 1309.0,1220.4 1309.3,1198.9 1309.6,1213.1 1309.9,1222.1 1310.2,1222.5 1310.5,1220.3 1310.8,1207.4 1311.1,1215.3 1311.4,1218.4 1311.7,1209.6 1312.0,1214.7 1312.3,1218.4 1312.6,1204.7 1312.9,1222.7 1313.2,1206.6 1313.5,1203.2 1313.8,1207.1 1314.1,1215.3 1314.4,1214.7 1314.7,1214.6 1315.0,1233.9 1315.3,1211.0 1315.6,1221.5 1315.9,1223.7 1316.2,1212.7 1316.5,1225.7 1316.8,1219.5 1317.1,1209.3 1317.4,1228.3 1317.7,1215.0 1318.0,1214.2 1318.3,1213.7 1318.6,1212.0 1318.9,1212.3 1319.2,1222.2 1319.5,1218.9 1319.8,1211.9 1320.1,1188.6 1320.4,1203.7 1320.7,1199.6 1321.0,1204.2 1321.3,1209.1 1321.6,1203.9 1321.9,1198.2 1322.2,1199.3 1322.5,1212.5 1322.8,1208.8 1323.1,1206.5 1323.4,1196.4 1323.7,1208.3 1324.0,1201.7 1324.3,1203.1 1324.6,1201.5 1324.9,1211.5 1325.2,1222.3 1325.5,1198.3 1325.8,1195.5 1326.1,1191.7 1326.4,1187.0 1326.7,1182.4 1327.0,1178.9 1327.3,1177.4 1327.6,1178.3 1327.9,1181.1 1328.2,1181.4 1328.5,1180.9 1328.8,1182.3 1329.1,1194.6 1329.4,1202.4 1329.7,1191.8 1330.0,1208.4 1330.3,1215.8 1330.6,1205.1 1330.9,1207.8 1331.2,1206.6 1331.5,1200.5 1331.8,1201.7 1332.1,1208.6 1332.4,1209.0 1332.7,1194.2 1333.0,1199.4 1333.3,1191.4 1333.6,1198.3 1333.9,1208.4 1334.2,1193.2 1334.5,1178.6 1334.8,1199.3 1335.1,1192.1 1335.4,1209.7 1335.7,1194.9 1336.0,1192.3 1336.3,1198.2 1336.6,1192.8 1336.9,1179.1 1337.2,1183.3 1337.5,1192.6 1337.8,1189.7 1338.1,1181.9 1338.4,1180.7 1338.7,1175.8 1339.0,1172.2 1339.3,1171.0 1339.6,1172.5 1339.9,1176.5 1340.2,1181.7 1340.5,1187.0 1340.8,1191.5 1341.1,1194.6 1341.4,1187.1 1341.7,1193.0 1342.0,1195.8 1342.3,1198.4 1342.6,1177.3 1342.9,1187.0 1343.2,1197.8 1343.5,1215.7 1343.8,1205.0 1344.1,1221.3 1344.4,1229.1 1344.7,1215.0 1345.0,1208.7 1345.3,1208.3 1345.6,1213.2 1345.9,1215.3 1346.2,1203.1 1346.5,1206.8 1346.8,1196.9 1347.1,1198.5 1347.4,1200.4 1347.7,1194.0 1348.0,1186.7 1348.3,1198.9 1348.6,1219.4 1348.9,1218.4 1349.2,1206.3 1349.5,1209.6 1349.8,1195.4 1350.1,1198.6 1350.4,1221.1 1350.7,1216.3 1351.0,1226.5 1351.3,1207.9 1351.6,1213.6 1351.9,1196.9 1352.2,1213.1 1352.5,1211.2 1352.8,1219.3 1353.1,1217.2 1353.4,1218.9 1353.7,1221.8 1354.0,1232.2 1354.3,1234.0 1354.6,1226.2 1354.9,1216.1 1355.2,1209.5 1355.5,1211.4 1355.8,1214.7 1356.1,1211.2 1356.4,1215.5 1356.7,1220.6 1357.0,1227.8 1357.3,1236.5 1357.6,1245.1 1357.9,1251.6 1358.2,1254.0 1358.5,1251.7 1358.8,1245.4 1359.1,1236.9 1359.4,1228.3 1359.7,1221.3 1360.0,1219.1 1360.3,1211.0 1360.6,1209.4 1360.9,1214.5 1361.2,1222.3 1361.5,1211.5 1361.8,1215.5 1362.1,1211.2 1362.4,1216.7 1362.7,1209.5 1363.0,1223.7 1363.3,1233.0 1363.6,1218.2 1363.9,1206.7 1364.2,1205.9 1364.5,1213.0 1364.8,1198.5 1365.1,1182.9 1365.4,1194.2 1365.7,1191.6 1366.0,1195.9 1366.3,1195.5 1366.6,1204.6 1366.9,1221.8 1367.2,1195.7 1367.5,1207.9 1367.8,1212.0 1368.1,1202.1 1368.4,1208.2 1368.7,1212.1 1369.0,1209.1 1369.3,1227.0 1369.6,1219.2 1369.9,1196.8 1370.2,1202.0 1370.5,1190.5 1370.8,1194.1 1371.1,1206.1 1371.4,1213.8 1371.7,1214.8 1372.0,1209.5 1372.3,1211.8 1372.6,1219.6 1372.9,1201.3 1373.2,1207.9 1373.5,1211.4 1373.8,1212.4 1374.1,1219.6 1374.4,1233.3 1374.7,1202.6 1375.0,1193.0 1375.3,1195.3 1375.6,1196.3 1375.9,1193.3 1376.2,1190.4 1376.5,1201.1 1376.8,1194.4 1377.1,1202.6 1377.4,1226.1 1377.7,1235.9 1378.0,1240.3 1378.3,1222.8 1378.6,1222.9 1378.9,1214.1 1379.2,1218.5 1379.5,1220.1 1379.8,1220.7 1380.1,1226.0 1380.4,1212.3 1380.7,1196.8 1381.0,1198.3 1381.3,1196.4 1381.6,1190.6 1381.9,1187.8 1382.2,1175.0 1382.5,1179.2 1382.8,1176.5 1383.1,1192.4 1383.4,1216.6 1383.7,1203.9 1384.0,1205.3 1384.3,1190.9 1384.6,1197.7 1384.9,1201.5 1385.2,1185.0 1385.5,1208.7 1385.8,1205.7 1386.1,1209.9 1386.4,1206.6 1386.7,1181.7 1387.0,1192.4 1387.3,1208.2 1387.6,1202.4 1387.9,1209.2 1388.2,1192.9 1388.5,1191.6 1388.8,1192.6 1389.1,1193.6 1389.4,1178.1 1389.7,1186.6 1390.0,1194.8 1390.3,1198.1 1390.6,1189.3 1390.9,1198.1 1391.2,1195.5 1391.5,1207.9 1391.8,1211.7 1392.1,1214.7 1392.4,1205.6 1392.7,1201.8 1393.0,1202.0 1393.3,1193.4 1393.6,1201.6 1393.9,1198.2 1394.2,1194.8 1394.5,1202.1 1394.8,1211.6 1395.1,1213.4 1395.4,1195.6 1395.7,1207.8 1396.0,1210.5 1396.3,1214.6 1396.6,1219.6 1396.9,1224.5 1397.2,1228.0 1397.5,1228.9 1397.8,1226.8 1398.1,1222.2 1398.4,1216.1 1398.7,1210.0 1399.0,1211.0 1399.3,1207.2 1399.6,1202.5 1399.9,1186.8 1400.2,1188.4 1400.5,1184.9 1400.8,1192.6 1401.1,1180.8 1401.4,1192.7 1401.7,1192.8 1402.0,1175.6 1402.3,1195.9 1402.6,1184.1 1402.9,1187.1 1403.2,1193.8 1403.5,1189.1 1403.8,1183.5 1404.1,1198.6 1404.4,1191.2 1404.7,1183.1 1405.0,1184.5 1405.3,1186.0 1405.6,1194.3 1405.9,1180.0 1406.2,1159.6 1406.5,1177.5 1406.8,1157.7 1407.1,1167.3 1407.4,1179.5 1407.7,1175.4 1408.0,1181.9 1408.3,1182.4 1408.6,1183.0 1408.9,1185.9 1409.2,1182.9 1409.5,1182.9 1409.8,1172.4 1410.1,1165.2 1410.4,1168.9 1410.7,1180.4 1411.0,1160.3 1411.3,1149.8 1411.6,1161.9 1411.9,1148.3 1412.2,1152.9 1412.5,1167.0 1412.8,1174.1 1413.1,1173.6 1413.4,1162.9 1413.7,1154.4 1414.0,1163.8 1414.3,1152.9 1414.6,1160.4 1414.9,1169.5 1415.2,1158.3 1415.5,1171.9 1415.8,1164.6 1416.1,1162.0 1416.4,1174.4 1416.7,1159.9 1417.0,1160.9 1417.3,1159.0 1417.6,1167.3 1417.9,1153.2 1418.2,1156.7 1418.5,1147.7 1418.8,1155.5 1419.1,1154.8 1419.4,1158.9 1419.7,1155.2 1420.0,1160.9 1420.3,1150.8 1420.6,1142.4 1420.9,1137.4 1421.2,1157.0 1421.5,1175.2 1421.8,1154.1 1422.1,1155.1 1422.4,1149.9 1422.7,1152.1 1423.0,1179.0 1423.3,1150.7 1423.6,1145.7 1423.9,1138.6 1424.2,1130.0 1424.5,1121.5 1424.8,1115.2 1425.1,1112.9 1425.4,1115.3 1425.7,1121.8 1426.0,1130.4 1426.3,1139.0 1426.6,1146.2 1426.9,1151.2 1427.2,1150.7 1427.5,1143.3 1427.8,1146.0 1428.1,1152.1 1428.4,1149.5 1428.7,1151.0 1429.0,1152.8 1429.3,1154.8 1429.6,1159.5 1429.9,1156.0 1430.2,1169.9 1430.5,1160.0 1430.8,1156.9 1431.1,1168.2 1431.4,1167.3 1431.7,1165.9 1432.0,1166.6 1432.3,1159.9 1432.6,1154.7 1432.9,1168.6 1433.2,1164.5 1433.5,1162.5 1433.8,1152.4 1434.1,1160.5 1434.4,1152.5 1434.7,1163.3 1435.0,1168.3 1435.3,1155.3 1435.6,1176.3 1435.9,1172.6 1436.2,1177.4 1436.5,1171.6 1436.8,1164.9 1437.1,1165.5 1437.4,1168.0 1437.7,1169.1 1438.0,1174.6 1438.3,1181.3 1438.6,1178.1 1438.9,1189.6 1439.2,1187.5 1439.5,1158.6 1439.8,1163.4 1440.1,1169.3 1440.4,1178.6 1440.7,1169.4 1441.0,1167.8 1441.3,1162.1 1441.6,1170.0 1441.9,1162.9 1442.2,1176.8 1442.5,1187.9 1442.8,1160.6 1443.1,1164.2 1443.4,1146.8 1443.7,1155.2 1444.0,1174.6 1444.3,1178.2 1444.6,1179.6 1444.9,1186.4 1445.2,1179.3 1445.5,1162.1 1445.8,1177.4 1446.1,1184.0 1446.4,1197.2 1446.7,1180.5 1447.0,1189.0 1447.3,1180.7 1447.6,1184.3 1447.9,1175.2 1448.2,1180.9 1448.5,1177.2 1448.8,1190.1 1449.1,1182.6 1449.4,1180.8 1449.7,1182.9 1450.0,1191.6 1450.3,1175.4 1450.6,1185.5 1450.9,1191.0 1451.2,1181.3 1451.5,1174.2 1451.8,1176.4 1452.1,1171.4 1452.4,1185.2 1452.7,1172.1 1453.0,1172.7 1453.3,1175.7 1453.6,1166.9 1453.9,1164.2 1454.2,1167.3 1454.5,1175.9 1454.8,1178.4 1455.1,1167.1 1455.4,1167.0 1455.7,1169.3 1456.0,1176.8 1456.3,1187.5 1456.6,1197.7 1456.9,1186.3 1457.2,1182.9 1457.5,1201.3 1457.8,1196.6 1458.1,1200.0 1458.4,1198.2 1458.7,1188.3 1459.0,1183.2 1459.3,1178.4 1459.6,1168.8 1459.9,1173.2 1460.2,1152.9 1460.5,1142.4 1460.8,1144.2 1461.1,1171.6 1461.4,1157.5 1461.7,1149.4 1462.0,1150.1 1462.3,1171.9 1462.6,1168.4 1462.9,1186.8 1463.2,1183.1 1463.5,1180.7 1463.8,1177.5 1464.1,1157.5 1464.4,1174.1 1464.7,1190.4 1465.0,1188.6 1465.3,1187.2 1465.6,1177.2 1465.9,1169.1 1466.2,1171.3 1466.5,1163.1 1466.8,1183.1 1467.1,1168.3 1467.4,1173.2 1467.7,1157.0 1468.0,1166.5 1468.3,1162.4 1468.6,1161.8 1468.9,1155.4 1469.2,1154.5 1469.5,1161.2 1469.8,1147.0 1470.1,1165.7 1470.4,1155.3 1470.7,1163.1 1471.0,1183.8 1471.3,1178.9 1471.6,1173.5 1471.9,1174.3 1472.2,1177.6 1472.5,1184.3 1472.8,1183.7 1473.1,1171.0 1473.4,1159.1 1473.7,1170.6 1474.0,1159.6 1474.3,1175.8 1474.6,1155.7 1474.9,1153.5 1475.2,1153.5 1475.5,1171.0 1475.8,1151.2 1476.1,1146.7 1476.4,1137.8 1476.7,1142.9 1477.0,1147.9 1477.3,1127.7 1477.6,1150.0 1477.9,1128.3 1478.2,1134.6 1478.5,1138.0 1478.8,1137.3 1479.1,1138.7 1479.4,1147.1 1479.7,1152.6 1480.0,1149.3 1480.3,1150.3 1480.6,1142.2 1481.0,1117.9 1481.3,1133.4 1481.7,1113.0 1482.1,1124.8 1482.5,1145.6 1483.0,1125.5 1483.4,1129.6 1484.0,1129.4 1484.5,1134.4 1485.1,1127.7 1485.7,1115.0 1486.3,1115.0 1487.0,1114.2 1487.7,1121.6 1488.5,1098.4 1489.3,1103.0 1490.1,1096.1 1491.0,1089.3 1492.0,1077.3 1493.0,1081.7 1494.1,1084.4 1495.2,1077.1 1496.4,1071.0 1497.6,1072.7 1498.8,1073.9 1500.0,1080.8 1501.2,1089.4 1502.4,1080.3 1503.6,1077.1 1504.8,1081.9 1506.0,1075.9 1507.2,1080.2 1508.4,1082.5 1509.6,1082.8 1510.8,1083.5 1512.0,1079.0 1513.2,1071.9 1514.4,1068.2 1515.6,1068.7 1516.8,1054.9 1518.0,1044.2 1519.2,1033.3 1520.4,1030.6 1521.6,1024.5 1522.8,1020.1 1524.0,1011.2 1525.2,1006.6 1526.4,1005.5 1527.6,1001.0 1528.8,991.1 1530.0,989.6 1531.2,990.2 1532.4,989.4 1533.6,992.1 1534.8,986.6 1536.0,983.9 1537.2,985.3 1538.4,985.5 1539.6,988.0 1540.8,995.4 1542.0,1000.2 1543.2,999.4 1544.4,1004.6 1545.6,1011.8 1546.8,1012.1 1548.0,1010.3 1549.2,1004.4 1550.4,1006.2 1551.6,1008.1 1552.8,1000.5 1554.0,1003.5 1555.2,1000.7 1556.4,1003.0 1557.6,1003.8 1558.8,1004.7 1560.0,999.8 1561.2,991.7 1562.4,993.0 1563.6,993.6 1564.8,996.0 1566.0,996.3 1567.2,1001.3 1568.4,999.1 1569.6,996.3 1570.8,1000.6 1572.0,995.4 1573.2,1000.7 1574.4,997.5 1575.6,1001.2 1576.8,997.4 1578.0,1007.4 1579.2,1003.6 1580.4,1001.9 1581.6,996.9 1582.8,994.3 1584.0,997.7 1585.2,998.7 1586.4,1000.9 1587.6,994.3 1588.8,989.3 1590.0,990.6 1591.2,991.1 1592.4,994.7 1593.6,984.7 1594.8,992.0 1596.0,990.8 1597.2,985.5 1598.4,985.5 1599.6,984.3 1600.8,979.7 1602.0,977.7 1603.2,979.0 1604.4,971.4 1605.6,965.4 1606.8,961.2 1608.0,951.7 1609.2,940.2 1610.4,933.4 1611.6,924.0 1612.8,919.3 1614.0,909.6 1615.2,907.9 1616.4,897.5 1617.6,903.8 1618.8,894.4 1620.0,887.5 1621.0,892.8" fill="none" stroke="#000" stroke-width="3.5" stroke-linejoin="round" stroke-linecap="round"/>
<path d="M1485.0,1091.2 1487.0,1118.9 1488.0,1039.0 1489.0,1079.3 1491.0,1128.4 1493.0,1067.6 1495.0,1099.7 1497.0,1060.9 1499.0,1107.6 1501.0,1067.5 1503.0,1121.3 1505.0,1067.1 1506.8,1016.0 1507.0,1110.8 1509.0,1045.0 1511.0,1108.8 1511.6,1145.0 1513.0,1059.8 1515.0,1073.6 1517.0,1030.6 1519.0,1055.2 1521.0,1014.9 1523.0,1038.5 1525.0,930.1 1527.0,1027.6 1527.7,857.0 1529.0,897.7 1531.0,1045.9 1532.3,866.0 1533.0,908.3 1535.0,1036.0 1537.0,948.7 1539.0,1052.8 1541.0,956.0 1543.0,1041.1 1545.0,982.5 1545.0,1080.0 1547.0,1028.1 1547.0,1093.0 1549.0,970.6 1549.0,1075.0 1551.0,1032.6 1553.0,967.3 1555.0,1027.4 1557.0,979.7 1557.3,907.0 1559.0,1016.0 1561.0,951.7 1563.0,1014.1 1563.6,884.0 1565.0,930.6 1567.0,1030.4 1568.6,1041.0 1569.0,944.8 1571.0,1022.8 1573.0,955.1 1575.0,1031.0 1577.0,995.6 1579.0,1028.6 1580.0,934.0 1581.0,955.8 1583.0,1023.7 1585.0,964.0 1587.0,1015.6 1589.0,960.0 1591.0,1028.7 1593.0,962.0 1595.0,1011.9 1597.0,947.4 1599.0,1019.9 1601.0,943.3 1603.0,1005.0 1603.9,909.0 1605.0,954.5 1607.0,984.9 1609.0,915.8 1611.0,957.9 1612.0,880.0 1613.0,876.5 1613.0,1000.0 1615.0,960.0 1615.0,820.0 1616.0,990.0 1617.0,879.4 1617.5,799.0 1619.0,973.9 1619.0,985.0 1620.0,805.0" fill="none" stroke="#000" stroke-width="3.5" stroke-linejoin="round" stroke-linecap="round"/>
<path d="M965.5,1269.7 C965.8,1262.9 966.4,1236.1 967.1,1228.7 C967.8,1221.3 968.6,1225.3 969.5,1225.6 C970.4,1225.9 971.6,1230.6 972.6,1230.3 C973.6,1230.0 974.0,1225.8 975.8,1224.0 C977.6,1222.2 980.7,1222.7 983.6,1219.3 C986.5,1215.9 990.5,1206.4 993.1,1203.5 C995.7,1200.6 997.0,1204.0 999.4,1201.9 C1001.8,1199.8 1004.9,1192.7 1007.3,1190.9 C1009.7,1189.1 1011.0,1192.1 1013.6,1190.9 C1016.2,1189.7 1019.6,1183.0 1023.0,1183.8 C1026.4,1184.6 1029.9,1189.9 1034.1,1195.6 C1038.3,1201.2 1044.3,1215.3 1048.2,1217.7 C1052.1,1220.1 1054.0,1214.5 1057.7,1209.8 C1061.4,1205.1 1066.6,1193.0 1070.3,1189.3 C1074.0,1185.6 1075.1,1189.0 1079.8,1187.8 C1084.5,1186.6 1092.4,1182.2 1098.7,1182.2 C1105.0,1182.2 1112.1,1187.5 1117.6,1187.8 C1123.1,1188.1 1125.8,1182.9 1131.8,1183.8 C1137.8,1184.7 1148.3,1192.6 1153.8,1193.3 C1159.3,1194.0 1161.8,1188.5 1164.9,1187.8 C1168.1,1187.1 1168.8,1186.9 1172.7,1189.3 C1176.6,1191.7 1183.2,1199.7 1188.5,1201.9 C1193.8,1204.1 1199.0,1202.6 1204.2,1202.7 C1209.4,1202.8 1213.8,1201.4 1219.5,1202.4 C1225.2,1203.4 1232.1,1209.9 1238.4,1208.7 C1244.7,1207.5 1252.8,1197.1 1257.3,1195.3 C1261.8,1193.5 1261.0,1192.3 1265.2,1197.7 C1269.4,1203.1 1278.3,1221.8 1282.5,1227.6 C1286.7,1233.4 1286.2,1234.2 1290.4,1232.4 C1294.6,1230.6 1302.2,1221.5 1307.7,1216.6 C1313.2,1211.7 1319.6,1206.6 1323.5,1203.2 C1327.4,1199.8 1328.7,1197.1 1331.3,1196.1 C1333.9,1195.0 1335.8,1195.1 1339.2,1196.9 C1342.6,1198.8 1348.4,1205.0 1351.8,1207.2 C1355.2,1209.4 1357.1,1209.9 1359.7,1210.3 C1362.3,1210.7 1365.2,1210.4 1367.6,1209.5 C1370.0,1208.6 1369.8,1205.2 1373.9,1204.8 C1378.1,1204.4 1387.6,1209.9 1392.5,1207.2 C1397.4,1204.5 1400.3,1193.4 1403.4,1188.4 C1406.5,1183.5 1408.7,1182.4 1411.3,1177.5 C1413.9,1172.6 1416.5,1162.2 1419.1,1158.8 C1421.7,1155.4 1424.6,1157.0 1426.9,1157.2 C1429.2,1157.5 1429.2,1156.9 1433.1,1160.3 C1437.0,1163.7 1445.6,1174.9 1450.3,1177.5 C1455.0,1180.1 1457.6,1179.0 1461.3,1175.9 C1465.0,1172.8 1469.6,1164.8 1472.2,1158.8 C1474.8,1152.8 1475.1,1146.2 1476.9,1140.0 C1478.7,1133.8 1481.1,1128.3 1483.1,1121.3 C1485.1,1114.3 1486.8,1105.5 1489.1,1098.2 C1491.4,1090.9 1494.9,1080.2 1497.0,1077.7 C1499.1,1075.2 1499.1,1083.8 1501.6,1083.4 C1504.1,1083.0 1509.0,1082.5 1511.8,1075.5 C1514.6,1068.5 1515.9,1054.3 1518.6,1041.4 C1521.2,1028.5 1524.5,1006.9 1527.7,998.2 C1530.9,989.5 1535.3,988.5 1538.0,989.1 C1540.7,989.7 1541.5,998.8 1543.6,1001.6 C1545.7,1004.4 1548.2,1006.1 1550.5,1006.1 C1552.8,1006.1 1554.6,1003.7 1557.3,1001.6 C1560.0,999.5 1563.0,992.5 1566.4,993.6 C1569.8,994.7 1573.9,1008.4 1577.7,1008.4 C1581.5,1008.4 1584.9,999.3 1589.1,993.6 C1593.3,987.9 1599.3,983.4 1602.7,974.3 C1606.1,965.2 1607.2,951.4 1609.5,939.1 C1611.8,926.8 1614.3,908.8 1616.4,900.5 C1618.5,892.2 1621.1,891.0 1622.0,889.1" fill="none" stroke="#f00" stroke-width="6" stroke-linejoin="round" stroke-linecap="butt"/>
<g font-family='"Liberation Sans", Arial, sans-serif' font-size="44.8" fill="#000">
<text x="964.9" y="1356.8" text-anchor="middle">0</text>
<text x="1088.7" y="1356.8" text-anchor="middle">5</text>
<text x="1212.5" y="1356.8" text-anchor="middle">10</text>
<text x="1336.3" y="1356.8" text-anchor="middle">15</text>
<text x="1460.1" y="1356.8" text-anchor="middle">20</text>
<text x="1583.9" y="1356.8" text-anchor="middle">25</text>
<text x="912.9" y="1283.4" text-anchor="end">0</text>
<text x="912.9" y="1153.7" text-anchor="end">10</text>
<text x="912.9" y="1024.0" text-anchor="end">20</text>
<text x="912.9" y="894.3" text-anchor="end">30</text>
<text x="912.9" y="764.6" text-anchor="end">40</text>
</g>
<g font-family='"Liberation Sans", Arial, sans-serif' font-size="44.6" fill="#000">
<text x="371.2" y="698.5">Time / ns</text>
<text x="1221.4" y="703.7">Time / ns</text>
<text x="390.6" y="1397.6">Time / ns</text>
<text x="1202.7" y="1402.9">Time / ns</text>
</g>
<g font-family='"Liberation Sans", Arial, sans-serif' font-size="44" fill="#000">
<text transform="translate(42.2,387.0) rotate(-90)" x="0" y="0">RMSD / Å</text>
<text transform="translate(861.4,388.7) rotate(-90)" x="0" y="0">RMSD / Å</text>
<text transform="translate(47.7,1091.0) rotate(-90)" x="0" y="0">RMSD / Å</text>
<text transform="translate(863.8,1088.7) rotate(-90)" x="0" y="0">RMSD / Å</text>
</g>
<g font-family='"Liberation Sans", Arial, sans-serif' font-size="44" font-weight="bold" fill="#000">
<text x="15.8" y="42.4">a</text>
<text x="834.1" y="36.2">b</text>
<text x="22.6" y="718.1">c</text>
<text x="846.6" y="719.0">d</text>
<text x="223.5" y="421.2">SBP</text>
<text x="440.6" y="508.4">MBP</text>
<text x="649.3" y="531.1">OBP</text>
<text x="1322.3" y="527.1">OBP</text>
<text x="633.4" y="1113.9">SBP</text>
</g>
</svg></body></html>
